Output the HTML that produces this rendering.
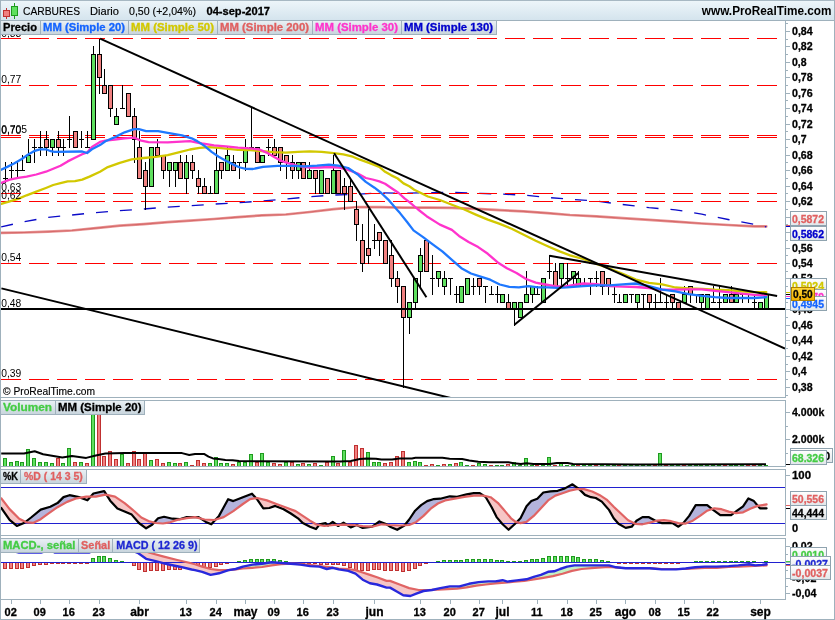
<!DOCTYPE html>
<html><head><meta charset="utf-8"><title>CARBURES</title>
<style>html,body{margin:0;padding:0;background:#fff;overflow:hidden}svg{will-change:transform}svg text{font-family:"Liberation Sans",sans-serif}</style>
</head><body>
<svg width="835" height="620" viewBox="0 0 835 620" style="display:block">
<defs>
<linearGradient id="hdr" x1="0" y1="0" x2="0" y2="1"><stop offset="0" stop-color="#eef6fa"/><stop offset="1" stop-color="#d3e3ed"/></linearGradient>
<linearGradient id="tab" x1="0" y1="0" x2="0" y2="1"><stop offset="0" stop-color="#e9f0f4"/><stop offset="1" stop-color="#c6d3db"/></linearGradient>
<linearGradient id="box" x1="0" y1="0" x2="0" y2="1"><stop offset="0" stop-color="#ffffff"/><stop offset="1" stop-color="#e1e6e9"/></linearGradient>
<linearGradient id="gold" x1="0" y1="0" x2="0" y2="1"><stop offset="0" stop-color="#ffd83a"/><stop offset="1" stop-color="#f0b000"/></linearGradient>
<clipPath id="cp"><rect x="1" y="35" width="784" height="362"/></clipPath>
<clipPath id="cb"><rect x="790" y="448" width="43" height="15"/></clipPath>
<clipPath id="cv"><rect x="1" y="415" width="784" height="51"/></clipPath>
<clipPath id="cs"><rect x="1" y="470" width="784" height="65"/></clipPath>
<clipPath id="cm"><rect x="1" y="553" width="784" height="45"/></clipPath>
</defs>
<rect x="0" y="0" width="835" height="620" fill="#ffffff"/>
<rect x="0" y="0" width="835" height="21" fill="url(#hdr)"/>
<rect x="0" y="0" width="835" height="1" fill="#a7b8c3"/>
<rect x="0" y="20" width="835" height="1" fill="#9fb1bc"/>
<g shape-rendering="crispEdges">
<rect x="6" y="8" width="1" height="11" fill="#c03030"/>
<rect x="3" y="10" width="7" height="7" fill="#c03030"/>
<rect x="4" y="11" width="5" height="5" fill="#f08080"/>
<rect x="14" y="3" width="1" height="16" fill="#1e9a1e"/>
<rect x="11" y="6" width="7" height="10" fill="#1e9a1e"/>
<rect x="12" y="7" width="5" height="8" fill="#5fe05f"/>
</g>
<text x="23" y="15" font-size="11" fill="#000" stroke="#000" stroke-width="0.15" text-anchor="start" textLength="57" lengthAdjust="spacingAndGlyphs">CARBURES</text>
<text x="90" y="15" font-size="11" fill="#000" stroke="#000" stroke-width="0.15" text-anchor="start" textLength="29" lengthAdjust="spacingAndGlyphs">Diario</text>
<text x="129" y="15" font-size="11" fill="#000" stroke="#000" stroke-width="0.15" text-anchor="start" textLength="67" lengthAdjust="spacingAndGlyphs">0,50 (+2,04%)</text>
<text x="206.5" y="15" font-size="11" fill="#000" font-weight="bold" stroke="#000" stroke-width="0.3" text-anchor="start" textLength="63.5" lengthAdjust="spacingAndGlyphs">04-sep-2017</text>
<text x="701.8" y="15" font-size="12" fill="#000" font-weight="bold" text-anchor="start" textLength="129.7" lengthAdjust="spacingAndGlyphs">www.ProRealTime.com</text>
<g shape-rendering="crispEdges">
<rect x="0" y="20" width="786" height="1" fill="#9fb1bc"/>
<rect x="0" y="397" width="786" height="1" fill="#9fb1bc"/>
<rect x="785" y="20" width="1" height="378" fill="#9fb1bc"/>
<rect x="0" y="400" width="786" height="1" fill="#9fb1bc"/>
<rect x="0" y="466" width="786" height="1" fill="#9fb1bc"/>
<rect x="785" y="400" width="1" height="67" fill="#9fb1bc"/>
<rect x="0" y="469" width="786" height="1" fill="#9fb1bc"/>
<rect x="0" y="535" width="786" height="1" fill="#9fb1bc"/>
<rect x="785" y="469" width="1" height="67" fill="#9fb1bc"/>
<rect x="0" y="538" width="786" height="1" fill="#9fb1bc"/>
<rect x="0" y="599" width="786" height="1" fill="#9fb1bc"/>
<rect x="785" y="538" width="1" height="62" fill="#9fb1bc"/>
<rect x="0" y="0" width="1" height="620" fill="#9fb1bc"/>
<rect x="834" y="0" width="1" height="620" fill="#9fb1bc"/>
<rect x="0" y="619" width="835" height="1" fill="#9fb1bc"/>
</g>
<g clip-path="url(#cp)">
<text x="1.2" y="36.5" font-size="10" fill="#000" text-anchor="start" textLength="20" lengthAdjust="spacingAndGlyphs">0,83</text>
<polyline points="1.2,232.9 24.0,232.5 47.9,231.7 71.9,230.5 95.8,228.1 119.8,225.7 143.7,224.1 167.7,222.2 190.0,220.7 214.0,219.0 237.9,217.1 261.9,215.4 285.8,214.5 309.8,212.0 333.7,209.2 357.7,207.0 380.0,207.2 404.0,207.6 427.9,207.6 451.9,207.8 475.8,208.8 499.8,210.2 523.7,211.4 547.7,213.1 570.0,215.0 596.4,216.4 622.7,218.2 649.0,219.8 675.4,221.6 701.8,223.5 728.1,225.0 754.5,226.4 766.3,226.4" fill="none" stroke="#e89494" stroke-width="2.7" stroke-linejoin="round" stroke-linecap="round"/>
<polyline points="1.2,232.9 24.0,232.5 47.9,231.7 71.9,230.5 95.8,228.1 119.8,225.7 143.7,224.1 167.7,222.2 190.0,220.7 214.0,219.0 237.9,217.1 261.9,215.4 285.8,214.5 309.8,212.0 333.7,209.2 357.7,207.0 380.0,207.2 404.0,207.6 427.9,207.6 451.9,207.8 475.8,208.8 499.8,210.2 523.7,211.4 547.7,213.1 570.0,215.0 596.4,216.4 622.7,218.2 649.0,219.8 675.4,221.6 701.8,223.5 728.1,225.0 754.5,226.4 766.3,226.4" fill="none" stroke="#d46464" stroke-width="1.1" stroke-linejoin="round" stroke-linecap="round" opacity="0.9"/>
<polyline points="1.2,226.9 24.0,221.7 47.9,217.4 71.9,215.0 95.8,212.6 119.8,210.7 143.7,209.0 167.7,207.1 190.0,205.8 214.0,204.1 237.9,202.7 261.9,201.0 285.8,199.1 309.8,196.7 333.7,195.0 357.7,194.3 380.0,192.8 404.0,193.2 427.9,192.8 451.9,192.3 475.8,193.2 499.8,194.0 523.7,195.1 547.7,197.5 570.0,199.2 596.4,201.1 622.7,204.5 649.0,207.7 675.4,209.8 701.8,214.2 728.1,219.5 754.5,224.3 766.3,226.9" fill="none" stroke="#0a0ac8" stroke-width="1.35" stroke-dasharray="12,12" stroke-linejoin="round"/>
<g shape-rendering="crispEdges">
<rect x="1" y="38" width="20" height="1" fill="#ff0000"/>
<rect x="29" y="38" width="20" height="1" fill="#ff0000"/>
<rect x="57" y="38" width="20" height="1" fill="#ff0000"/>
<rect x="85" y="38" width="20" height="1" fill="#ff0000"/>
<rect x="113" y="38" width="20" height="1" fill="#ff0000"/>
<rect x="141" y="38" width="20" height="1" fill="#ff0000"/>
<rect x="169" y="38" width="20" height="1" fill="#ff0000"/>
<rect x="197" y="38" width="20" height="1" fill="#ff0000"/>
<rect x="225" y="38" width="20" height="1" fill="#ff0000"/>
<rect x="253" y="38" width="20" height="1" fill="#ff0000"/>
<rect x="281" y="38" width="20" height="1" fill="#ff0000"/>
<rect x="309" y="38" width="20" height="1" fill="#ff0000"/>
<rect x="337" y="38" width="20" height="1" fill="#ff0000"/>
<rect x="365" y="38" width="20" height="1" fill="#ff0000"/>
<rect x="393" y="38" width="20" height="1" fill="#ff0000"/>
<rect x="421" y="38" width="20" height="1" fill="#ff0000"/>
<rect x="449" y="38" width="20" height="1" fill="#ff0000"/>
<rect x="477" y="38" width="20" height="1" fill="#ff0000"/>
<rect x="505" y="38" width="20" height="1" fill="#ff0000"/>
<rect x="533" y="38" width="20" height="1" fill="#ff0000"/>
<rect x="561" y="38" width="20" height="1" fill="#ff0000"/>
<rect x="589" y="38" width="20" height="1" fill="#ff0000"/>
<rect x="617" y="38" width="20" height="1" fill="#ff0000"/>
<rect x="645" y="38" width="20" height="1" fill="#ff0000"/>
<rect x="673" y="38" width="20" height="1" fill="#ff0000"/>
<rect x="701" y="38" width="20" height="1" fill="#ff0000"/>
<rect x="729" y="38" width="20" height="1" fill="#ff0000"/>
<rect x="757" y="38" width="20" height="1" fill="#ff0000"/>
<rect x="1" y="85" width="20" height="1" fill="#ff0000"/>
<rect x="29" y="85" width="20" height="1" fill="#ff0000"/>
<rect x="57" y="85" width="20" height="1" fill="#ff0000"/>
<rect x="85" y="85" width="20" height="1" fill="#ff0000"/>
<rect x="113" y="85" width="20" height="1" fill="#ff0000"/>
<rect x="141" y="85" width="20" height="1" fill="#ff0000"/>
<rect x="169" y="85" width="20" height="1" fill="#ff0000"/>
<rect x="197" y="85" width="20" height="1" fill="#ff0000"/>
<rect x="225" y="85" width="20" height="1" fill="#ff0000"/>
<rect x="253" y="85" width="20" height="1" fill="#ff0000"/>
<rect x="281" y="85" width="20" height="1" fill="#ff0000"/>
<rect x="309" y="85" width="20" height="1" fill="#ff0000"/>
<rect x="337" y="85" width="20" height="1" fill="#ff0000"/>
<rect x="365" y="85" width="20" height="1" fill="#ff0000"/>
<rect x="393" y="85" width="20" height="1" fill="#ff0000"/>
<rect x="421" y="85" width="20" height="1" fill="#ff0000"/>
<rect x="449" y="85" width="20" height="1" fill="#ff0000"/>
<rect x="477" y="85" width="20" height="1" fill="#ff0000"/>
<rect x="505" y="85" width="20" height="1" fill="#ff0000"/>
<rect x="533" y="85" width="20" height="1" fill="#ff0000"/>
<rect x="561" y="85" width="20" height="1" fill="#ff0000"/>
<rect x="589" y="85" width="20" height="1" fill="#ff0000"/>
<rect x="617" y="85" width="20" height="1" fill="#ff0000"/>
<rect x="645" y="85" width="20" height="1" fill="#ff0000"/>
<rect x="673" y="85" width="20" height="1" fill="#ff0000"/>
<rect x="701" y="85" width="20" height="1" fill="#ff0000"/>
<rect x="729" y="85" width="20" height="1" fill="#ff0000"/>
<rect x="757" y="85" width="20" height="1" fill="#ff0000"/>
<rect x="1" y="135" width="20" height="1" fill="#ff0000"/>
<rect x="29" y="135" width="20" height="1" fill="#ff0000"/>
<rect x="57" y="135" width="20" height="1" fill="#ff0000"/>
<rect x="85" y="135" width="20" height="1" fill="#ff0000"/>
<rect x="113" y="135" width="20" height="1" fill="#ff0000"/>
<rect x="141" y="135" width="20" height="1" fill="#ff0000"/>
<rect x="169" y="135" width="20" height="1" fill="#ff0000"/>
<rect x="197" y="135" width="20" height="1" fill="#ff0000"/>
<rect x="225" y="135" width="20" height="1" fill="#ff0000"/>
<rect x="253" y="135" width="20" height="1" fill="#ff0000"/>
<rect x="281" y="135" width="20" height="1" fill="#ff0000"/>
<rect x="309" y="135" width="20" height="1" fill="#ff0000"/>
<rect x="337" y="135" width="20" height="1" fill="#ff0000"/>
<rect x="365" y="135" width="20" height="1" fill="#ff0000"/>
<rect x="393" y="135" width="20" height="1" fill="#ff0000"/>
<rect x="421" y="135" width="20" height="1" fill="#ff0000"/>
<rect x="449" y="135" width="20" height="1" fill="#ff0000"/>
<rect x="477" y="135" width="20" height="1" fill="#ff0000"/>
<rect x="505" y="135" width="20" height="1" fill="#ff0000"/>
<rect x="533" y="135" width="20" height="1" fill="#ff0000"/>
<rect x="561" y="135" width="20" height="1" fill="#ff0000"/>
<rect x="589" y="135" width="20" height="1" fill="#ff0000"/>
<rect x="617" y="135" width="20" height="1" fill="#ff0000"/>
<rect x="645" y="135" width="20" height="1" fill="#ff0000"/>
<rect x="673" y="135" width="20" height="1" fill="#ff0000"/>
<rect x="701" y="135" width="20" height="1" fill="#ff0000"/>
<rect x="729" y="135" width="20" height="1" fill="#ff0000"/>
<rect x="757" y="135" width="20" height="1" fill="#ff0000"/>
<rect x="1" y="137" width="20" height="1" fill="#ff0000"/>
<rect x="29" y="137" width="20" height="1" fill="#ff0000"/>
<rect x="57" y="137" width="20" height="1" fill="#ff0000"/>
<rect x="85" y="137" width="20" height="1" fill="#ff0000"/>
<rect x="113" y="137" width="20" height="1" fill="#ff0000"/>
<rect x="141" y="137" width="20" height="1" fill="#ff0000"/>
<rect x="169" y="137" width="20" height="1" fill="#ff0000"/>
<rect x="197" y="137" width="20" height="1" fill="#ff0000"/>
<rect x="225" y="137" width="20" height="1" fill="#ff0000"/>
<rect x="253" y="137" width="20" height="1" fill="#ff0000"/>
<rect x="281" y="137" width="20" height="1" fill="#ff0000"/>
<rect x="309" y="137" width="20" height="1" fill="#ff0000"/>
<rect x="337" y="137" width="20" height="1" fill="#ff0000"/>
<rect x="365" y="137" width="20" height="1" fill="#ff0000"/>
<rect x="393" y="137" width="20" height="1" fill="#ff0000"/>
<rect x="421" y="137" width="20" height="1" fill="#ff0000"/>
<rect x="449" y="137" width="20" height="1" fill="#ff0000"/>
<rect x="477" y="137" width="20" height="1" fill="#ff0000"/>
<rect x="505" y="137" width="20" height="1" fill="#ff0000"/>
<rect x="533" y="137" width="20" height="1" fill="#ff0000"/>
<rect x="561" y="137" width="20" height="1" fill="#ff0000"/>
<rect x="589" y="137" width="20" height="1" fill="#ff0000"/>
<rect x="617" y="137" width="20" height="1" fill="#ff0000"/>
<rect x="645" y="137" width="20" height="1" fill="#ff0000"/>
<rect x="673" y="137" width="20" height="1" fill="#ff0000"/>
<rect x="701" y="137" width="20" height="1" fill="#ff0000"/>
<rect x="729" y="137" width="20" height="1" fill="#ff0000"/>
<rect x="757" y="137" width="20" height="1" fill="#ff0000"/>
<rect x="1" y="193" width="20" height="1" fill="#ff0000"/>
<rect x="29" y="193" width="20" height="1" fill="#ff0000"/>
<rect x="57" y="193" width="20" height="1" fill="#ff0000"/>
<rect x="85" y="193" width="20" height="1" fill="#ff0000"/>
<rect x="113" y="193" width="20" height="1" fill="#ff0000"/>
<rect x="141" y="193" width="20" height="1" fill="#ff0000"/>
<rect x="169" y="193" width="20" height="1" fill="#ff0000"/>
<rect x="197" y="193" width="20" height="1" fill="#ff0000"/>
<rect x="225" y="193" width="20" height="1" fill="#ff0000"/>
<rect x="253" y="193" width="20" height="1" fill="#ff0000"/>
<rect x="281" y="193" width="20" height="1" fill="#ff0000"/>
<rect x="309" y="193" width="20" height="1" fill="#ff0000"/>
<rect x="337" y="193" width="20" height="1" fill="#ff0000"/>
<rect x="365" y="193" width="20" height="1" fill="#ff0000"/>
<rect x="393" y="193" width="20" height="1" fill="#ff0000"/>
<rect x="421" y="193" width="20" height="1" fill="#ff0000"/>
<rect x="449" y="193" width="20" height="1" fill="#ff0000"/>
<rect x="477" y="193" width="20" height="1" fill="#ff0000"/>
<rect x="505" y="193" width="20" height="1" fill="#ff0000"/>
<rect x="533" y="193" width="20" height="1" fill="#ff0000"/>
<rect x="561" y="193" width="20" height="1" fill="#ff0000"/>
<rect x="589" y="193" width="20" height="1" fill="#ff0000"/>
<rect x="617" y="193" width="20" height="1" fill="#ff0000"/>
<rect x="645" y="193" width="20" height="1" fill="#ff0000"/>
<rect x="673" y="193" width="20" height="1" fill="#ff0000"/>
<rect x="701" y="193" width="20" height="1" fill="#ff0000"/>
<rect x="729" y="193" width="20" height="1" fill="#ff0000"/>
<rect x="757" y="193" width="20" height="1" fill="#ff0000"/>
<rect x="1" y="201" width="20" height="1" fill="#ff0000"/>
<rect x="29" y="201" width="20" height="1" fill="#ff0000"/>
<rect x="57" y="201" width="20" height="1" fill="#ff0000"/>
<rect x="85" y="201" width="20" height="1" fill="#ff0000"/>
<rect x="113" y="201" width="20" height="1" fill="#ff0000"/>
<rect x="141" y="201" width="20" height="1" fill="#ff0000"/>
<rect x="169" y="201" width="20" height="1" fill="#ff0000"/>
<rect x="197" y="201" width="20" height="1" fill="#ff0000"/>
<rect x="225" y="201" width="20" height="1" fill="#ff0000"/>
<rect x="253" y="201" width="20" height="1" fill="#ff0000"/>
<rect x="281" y="201" width="20" height="1" fill="#ff0000"/>
<rect x="309" y="201" width="20" height="1" fill="#ff0000"/>
<rect x="337" y="201" width="20" height="1" fill="#ff0000"/>
<rect x="365" y="201" width="20" height="1" fill="#ff0000"/>
<rect x="393" y="201" width="20" height="1" fill="#ff0000"/>
<rect x="421" y="201" width="20" height="1" fill="#ff0000"/>
<rect x="449" y="201" width="20" height="1" fill="#ff0000"/>
<rect x="477" y="201" width="20" height="1" fill="#ff0000"/>
<rect x="505" y="201" width="20" height="1" fill="#ff0000"/>
<rect x="533" y="201" width="20" height="1" fill="#ff0000"/>
<rect x="561" y="201" width="20" height="1" fill="#ff0000"/>
<rect x="589" y="201" width="20" height="1" fill="#ff0000"/>
<rect x="617" y="201" width="20" height="1" fill="#ff0000"/>
<rect x="645" y="201" width="20" height="1" fill="#ff0000"/>
<rect x="673" y="201" width="20" height="1" fill="#ff0000"/>
<rect x="701" y="201" width="20" height="1" fill="#ff0000"/>
<rect x="729" y="201" width="20" height="1" fill="#ff0000"/>
<rect x="757" y="201" width="20" height="1" fill="#ff0000"/>
<rect x="1" y="263" width="20" height="1" fill="#ff0000"/>
<rect x="29" y="263" width="20" height="1" fill="#ff0000"/>
<rect x="57" y="263" width="20" height="1" fill="#ff0000"/>
<rect x="85" y="263" width="20" height="1" fill="#ff0000"/>
<rect x="113" y="263" width="20" height="1" fill="#ff0000"/>
<rect x="141" y="263" width="20" height="1" fill="#ff0000"/>
<rect x="169" y="263" width="20" height="1" fill="#ff0000"/>
<rect x="197" y="263" width="20" height="1" fill="#ff0000"/>
<rect x="225" y="263" width="20" height="1" fill="#ff0000"/>
<rect x="253" y="263" width="20" height="1" fill="#ff0000"/>
<rect x="281" y="263" width="20" height="1" fill="#ff0000"/>
<rect x="309" y="263" width="20" height="1" fill="#ff0000"/>
<rect x="337" y="263" width="20" height="1" fill="#ff0000"/>
<rect x="365" y="263" width="20" height="1" fill="#ff0000"/>
<rect x="393" y="263" width="20" height="1" fill="#ff0000"/>
<rect x="421" y="263" width="20" height="1" fill="#ff0000"/>
<rect x="449" y="263" width="20" height="1" fill="#ff0000"/>
<rect x="477" y="263" width="20" height="1" fill="#ff0000"/>
<rect x="505" y="263" width="20" height="1" fill="#ff0000"/>
<rect x="533" y="263" width="20" height="1" fill="#ff0000"/>
<rect x="561" y="263" width="20" height="1" fill="#ff0000"/>
<rect x="589" y="263" width="20" height="1" fill="#ff0000"/>
<rect x="617" y="263" width="20" height="1" fill="#ff0000"/>
<rect x="645" y="263" width="20" height="1" fill="#ff0000"/>
<rect x="673" y="263" width="20" height="1" fill="#ff0000"/>
<rect x="701" y="263" width="20" height="1" fill="#ff0000"/>
<rect x="729" y="263" width="20" height="1" fill="#ff0000"/>
<rect x="757" y="263" width="20" height="1" fill="#ff0000"/>
<rect x="1" y="379" width="20" height="1" fill="#ff0000"/>
<rect x="29" y="379" width="20" height="1" fill="#ff0000"/>
<rect x="57" y="379" width="20" height="1" fill="#ff0000"/>
<rect x="85" y="379" width="20" height="1" fill="#ff0000"/>
<rect x="113" y="379" width="20" height="1" fill="#ff0000"/>
<rect x="141" y="379" width="20" height="1" fill="#ff0000"/>
<rect x="169" y="379" width="20" height="1" fill="#ff0000"/>
<rect x="197" y="379" width="20" height="1" fill="#ff0000"/>
<rect x="225" y="379" width="20" height="1" fill="#ff0000"/>
<rect x="253" y="379" width="20" height="1" fill="#ff0000"/>
<rect x="281" y="379" width="20" height="1" fill="#ff0000"/>
<rect x="309" y="379" width="20" height="1" fill="#ff0000"/>
<rect x="337" y="379" width="20" height="1" fill="#ff0000"/>
<rect x="365" y="379" width="20" height="1" fill="#ff0000"/>
<rect x="393" y="379" width="20" height="1" fill="#ff0000"/>
<rect x="421" y="379" width="20" height="1" fill="#ff0000"/>
<rect x="449" y="379" width="20" height="1" fill="#ff0000"/>
<rect x="477" y="379" width="20" height="1" fill="#ff0000"/>
<rect x="505" y="379" width="20" height="1" fill="#ff0000"/>
<rect x="533" y="379" width="20" height="1" fill="#ff0000"/>
<rect x="561" y="379" width="20" height="1" fill="#ff0000"/>
<rect x="589" y="379" width="20" height="1" fill="#ff0000"/>
<rect x="617" y="379" width="20" height="1" fill="#ff0000"/>
<rect x="645" y="379" width="20" height="1" fill="#ff0000"/>
<rect x="673" y="379" width="20" height="1" fill="#ff0000"/>
<rect x="701" y="379" width="20" height="1" fill="#ff0000"/>
<rect x="729" y="379" width="20" height="1" fill="#ff0000"/>
<rect x="757" y="379" width="20" height="1" fill="#ff0000"/>
</g>
<g shape-rendering="crispEdges">
<rect x="5" y="162" width="1" height="21" fill="#000"/>
<rect x="3" y="178" width="5" height="1" fill="#000"/>
<rect x="11" y="162" width="1" height="17" fill="#000"/>
<rect x="9" y="170" width="5" height="1" fill="#000"/>
<rect x="17" y="162" width="1" height="17" fill="#000"/>
<rect x="15" y="170" width="5" height="1" fill="#000"/>
<rect x="22" y="155" width="1" height="16" fill="#000"/>
<rect x="20" y="170" width="5" height="1" fill="#000"/>
<rect x="28" y="139" width="1" height="24" fill="#000"/>
<rect x="26" y="155" width="5" height="8" fill="#000"/>
<rect x="27" y="156" width="3" height="6" fill="#5fe05f"/>
<rect x="34" y="139" width="1" height="24" fill="#000"/>
<rect x="32" y="147" width="5" height="1" fill="#000"/>
<rect x="40" y="131" width="1" height="25" fill="#000"/>
<rect x="38" y="147" width="5" height="1" fill="#000"/>
<rect x="46" y="131" width="1" height="25" fill="#000"/>
<rect x="44" y="139" width="5" height="9" fill="#000"/>
<rect x="45" y="140" width="3" height="7" fill="#f08080"/>
<rect x="52" y="139" width="1" height="17" fill="#000"/>
<rect x="50" y="139" width="5" height="9" fill="#000"/>
<rect x="51" y="140" width="3" height="7" fill="#5fe05f"/>
<rect x="58" y="131" width="1" height="25" fill="#000"/>
<rect x="56" y="139" width="5" height="9" fill="#000"/>
<rect x="57" y="140" width="3" height="7" fill="#f08080"/>
<rect x="63" y="139" width="1" height="17" fill="#000"/>
<rect x="61" y="147" width="5" height="1" fill="#000"/>
<rect x="69" y="116" width="1" height="32" fill="#000"/>
<rect x="67" y="139" width="5" height="1" fill="#000"/>
<rect x="75" y="131" width="1" height="17" fill="#000"/>
<rect x="73" y="131" width="5" height="17" fill="#000"/>
<rect x="74" y="132" width="3" height="15" fill="#f08080"/>
<rect x="81" y="131" width="1" height="17" fill="#000"/>
<rect x="79" y="139" width="5" height="1" fill="#000"/>
<rect x="87" y="131" width="1" height="17" fill="#000"/>
<rect x="85" y="147" width="5" height="1" fill="#000"/>
<rect x="93" y="46" width="1" height="94" fill="#000"/>
<rect x="91" y="54" width="5" height="86" fill="#000"/>
<rect x="92" y="55" width="3" height="84" fill="#5fe05f"/>
<rect x="99" y="39" width="1" height="55" fill="#000"/>
<rect x="97" y="54" width="5" height="24" fill="#000"/>
<rect x="98" y="55" width="3" height="22" fill="#f08080"/>
<rect x="104" y="69" width="1" height="25" fill="#000"/>
<rect x="102" y="85" width="5" height="9" fill="#000"/>
<rect x="103" y="86" width="3" height="7" fill="#f08080"/>
<rect x="110" y="85" width="1" height="32" fill="#000"/>
<rect x="108" y="85" width="5" height="24" fill="#000"/>
<rect x="109" y="86" width="3" height="22" fill="#f08080"/>
<rect x="116" y="108" width="1" height="17" fill="#000"/>
<rect x="114" y="116" width="5" height="9" fill="#000"/>
<rect x="115" y="117" width="3" height="7" fill="#5fe05f"/>
<rect x="122" y="85" width="1" height="24" fill="#000"/>
<rect x="120" y="108" width="5" height="1" fill="#000"/>
<rect x="128" y="93" width="1" height="24" fill="#000"/>
<rect x="126" y="93" width="5" height="24" fill="#000"/>
<rect x="127" y="94" width="3" height="22" fill="#f08080"/>
<rect x="134" y="108" width="1" height="55" fill="#000"/>
<rect x="132" y="116" width="5" height="24" fill="#000"/>
<rect x="133" y="117" width="3" height="22" fill="#f08080"/>
<rect x="139" y="131" width="1" height="48" fill="#000"/>
<rect x="137" y="147" width="5" height="32" fill="#000"/>
<rect x="138" y="148" width="3" height="30" fill="#f08080"/>
<rect x="145" y="162" width="1" height="48" fill="#000"/>
<rect x="143" y="170" width="5" height="17" fill="#000"/>
<rect x="144" y="171" width="3" height="15" fill="#f08080"/>
<rect x="151" y="147" width="1" height="40" fill="#000"/>
<rect x="149" y="147" width="5" height="40" fill="#000"/>
<rect x="150" y="148" width="3" height="38" fill="#5fe05f"/>
<rect x="157" y="139" width="1" height="17" fill="#000"/>
<rect x="155" y="147" width="5" height="9" fill="#000"/>
<rect x="156" y="148" width="3" height="7" fill="#f08080"/>
<rect x="163" y="155" width="1" height="24" fill="#000"/>
<rect x="161" y="155" width="5" height="16" fill="#000"/>
<rect x="162" y="156" width="3" height="14" fill="#f08080"/>
<rect x="169" y="162" width="1" height="25" fill="#000"/>
<rect x="167" y="162" width="5" height="9" fill="#000"/>
<rect x="168" y="163" width="3" height="7" fill="#5fe05f"/>
<rect x="175" y="162" width="1" height="25" fill="#000"/>
<rect x="173" y="162" width="5" height="9" fill="#000"/>
<rect x="174" y="163" width="3" height="7" fill="#5fe05f"/>
<rect x="180" y="155" width="1" height="24" fill="#000"/>
<rect x="178" y="162" width="5" height="17" fill="#000"/>
<rect x="179" y="163" width="3" height="15" fill="#f08080"/>
<rect x="186" y="155" width="1" height="39" fill="#000"/>
<rect x="184" y="162" width="5" height="17" fill="#000"/>
<rect x="185" y="163" width="3" height="15" fill="#5fe05f"/>
<rect x="192" y="155" width="1" height="24" fill="#000"/>
<rect x="190" y="162" width="5" height="9" fill="#000"/>
<rect x="191" y="163" width="3" height="7" fill="#f08080"/>
<rect x="198" y="170" width="1" height="24" fill="#000"/>
<rect x="196" y="178" width="5" height="9" fill="#000"/>
<rect x="197" y="179" width="3" height="7" fill="#f08080"/>
<rect x="204" y="178" width="1" height="16" fill="#000"/>
<rect x="202" y="186" width="5" height="8" fill="#000"/>
<rect x="203" y="187" width="3" height="6" fill="#f08080"/>
<rect x="210" y="186" width="1" height="8" fill="#000"/>
<rect x="208" y="193" width="5" height="1" fill="#000"/>
<rect x="216" y="147" width="1" height="47" fill="#000"/>
<rect x="214" y="170" width="5" height="24" fill="#000"/>
<rect x="215" y="171" width="3" height="22" fill="#5fe05f"/>
<rect x="221" y="162" width="1" height="17" fill="#000"/>
<rect x="219" y="162" width="5" height="9" fill="#000"/>
<rect x="220" y="163" width="3" height="7" fill="#f08080"/>
<rect x="227" y="147" width="1" height="24" fill="#000"/>
<rect x="225" y="155" width="5" height="16" fill="#000"/>
<rect x="226" y="156" width="3" height="14" fill="#5fe05f"/>
<rect x="233" y="155" width="1" height="16" fill="#000"/>
<rect x="231" y="162" width="5" height="9" fill="#000"/>
<rect x="232" y="163" width="3" height="7" fill="#f08080"/>
<rect x="239" y="162" width="1" height="17" fill="#000"/>
<rect x="237" y="162" width="5" height="1" fill="#000"/>
<rect x="245" y="139" width="1" height="32" fill="#000"/>
<rect x="243" y="147" width="5" height="16" fill="#000"/>
<rect x="244" y="148" width="3" height="14" fill="#5fe05f"/>
<rect x="251" y="108" width="1" height="40" fill="#000"/>
<rect x="249" y="147" width="5" height="1" fill="#000"/>
<rect x="257" y="147" width="1" height="16" fill="#000"/>
<rect x="255" y="147" width="5" height="16" fill="#000"/>
<rect x="256" y="148" width="3" height="14" fill="#f08080"/>
<rect x="262" y="155" width="1" height="8" fill="#000"/>
<rect x="260" y="155" width="5" height="8" fill="#000"/>
<rect x="261" y="156" width="3" height="6" fill="#5fe05f"/>
<rect x="268" y="139" width="1" height="17" fill="#000"/>
<rect x="266" y="147" width="5" height="1" fill="#000"/>
<rect x="274" y="139" width="1" height="17" fill="#000"/>
<rect x="272" y="147" width="5" height="9" fill="#000"/>
<rect x="273" y="148" width="3" height="7" fill="#f08080"/>
<rect x="280" y="147" width="1" height="24" fill="#000"/>
<rect x="278" y="147" width="5" height="16" fill="#000"/>
<rect x="279" y="148" width="3" height="14" fill="#f08080"/>
<rect x="286" y="155" width="1" height="24" fill="#000"/>
<rect x="284" y="155" width="5" height="8" fill="#000"/>
<rect x="285" y="156" width="3" height="6" fill="#f08080"/>
<rect x="292" y="155" width="1" height="24" fill="#000"/>
<rect x="290" y="162" width="5" height="9" fill="#000"/>
<rect x="291" y="163" width="3" height="7" fill="#f08080"/>
<rect x="298" y="162" width="1" height="17" fill="#000"/>
<rect x="296" y="162" width="5" height="9" fill="#000"/>
<rect x="297" y="163" width="3" height="7" fill="#5fe05f"/>
<rect x="303" y="162" width="1" height="17" fill="#000"/>
<rect x="301" y="162" width="5" height="17" fill="#000"/>
<rect x="302" y="163" width="3" height="15" fill="#f08080"/>
<rect x="309" y="162" width="1" height="17" fill="#000"/>
<rect x="307" y="170" width="5" height="9" fill="#000"/>
<rect x="308" y="171" width="3" height="7" fill="#5fe05f"/>
<rect x="315" y="170" width="1" height="24" fill="#000"/>
<rect x="313" y="170" width="5" height="9" fill="#000"/>
<rect x="314" y="171" width="3" height="7" fill="#f08080"/>
<rect x="321" y="170" width="1" height="24" fill="#000"/>
<rect x="319" y="170" width="5" height="24" fill="#000"/>
<rect x="320" y="171" width="3" height="22" fill="#5fe05f"/>
<rect x="327" y="178" width="1" height="16" fill="#000"/>
<rect x="325" y="178" width="5" height="16" fill="#000"/>
<rect x="326" y="179" width="3" height="14" fill="#f08080"/>
<rect x="333" y="155" width="1" height="39" fill="#000"/>
<rect x="331" y="170" width="5" height="24" fill="#000"/>
<rect x="332" y="171" width="3" height="22" fill="#5fe05f"/>
<rect x="338" y="170" width="1" height="24" fill="#000"/>
<rect x="336" y="170" width="5" height="24" fill="#000"/>
<rect x="337" y="171" width="3" height="22" fill="#f08080"/>
<rect x="344" y="178" width="1" height="32" fill="#000"/>
<rect x="342" y="186" width="5" height="8" fill="#000"/>
<rect x="343" y="187" width="3" height="6" fill="#f08080"/>
<rect x="350" y="178" width="1" height="24" fill="#000"/>
<rect x="348" y="186" width="5" height="16" fill="#000"/>
<rect x="349" y="187" width="3" height="14" fill="#f08080"/>
<rect x="356" y="201" width="1" height="40" fill="#000"/>
<rect x="354" y="209" width="5" height="16" fill="#000"/>
<rect x="355" y="210" width="3" height="14" fill="#f08080"/>
<rect x="362" y="224" width="1" height="48" fill="#000"/>
<rect x="360" y="240" width="5" height="24" fill="#000"/>
<rect x="361" y="241" width="3" height="22" fill="#f08080"/>
<rect x="368" y="209" width="1" height="55" fill="#000"/>
<rect x="366" y="248" width="5" height="8" fill="#000"/>
<rect x="367" y="249" width="3" height="6" fill="#f08080"/>
<rect x="374" y="224" width="1" height="25" fill="#000"/>
<rect x="372" y="240" width="5" height="1" fill="#000"/>
<rect x="379" y="232" width="1" height="24" fill="#000"/>
<rect x="377" y="232" width="5" height="9" fill="#000"/>
<rect x="378" y="233" width="3" height="7" fill="#f08080"/>
<rect x="385" y="240" width="1" height="24" fill="#000"/>
<rect x="383" y="240" width="5" height="24" fill="#000"/>
<rect x="384" y="241" width="3" height="22" fill="#f08080"/>
<rect x="391" y="240" width="1" height="47" fill="#000"/>
<rect x="389" y="255" width="5" height="24" fill="#000"/>
<rect x="390" y="256" width="3" height="22" fill="#f08080"/>
<rect x="397" y="271" width="1" height="32" fill="#000"/>
<rect x="395" y="278" width="5" height="9" fill="#000"/>
<rect x="396" y="279" width="3" height="7" fill="#f08080"/>
<rect x="403" y="286" width="1" height="102" fill="#000"/>
<rect x="401" y="286" width="5" height="32" fill="#000"/>
<rect x="402" y="287" width="3" height="30" fill="#f08080"/>
<rect x="409" y="302" width="1" height="32" fill="#000"/>
<rect x="407" y="302" width="5" height="16" fill="#000"/>
<rect x="408" y="303" width="3" height="14" fill="#5fe05f"/>
<rect x="415" y="278" width="1" height="32" fill="#000"/>
<rect x="413" y="278" width="5" height="25" fill="#000"/>
<rect x="414" y="279" width="3" height="23" fill="#5fe05f"/>
<rect x="420" y="248" width="1" height="39" fill="#000"/>
<rect x="418" y="255" width="5" height="17" fill="#000"/>
<rect x="419" y="256" width="3" height="15" fill="#5fe05f"/>
<rect x="426" y="240" width="1" height="32" fill="#000"/>
<rect x="424" y="240" width="5" height="32" fill="#000"/>
<rect x="425" y="241" width="3" height="30" fill="#f08080"/>
<rect x="432" y="255" width="1" height="40" fill="#000"/>
<rect x="430" y="278" width="5" height="1" fill="#000"/>
<rect x="438" y="271" width="1" height="16" fill="#000"/>
<rect x="436" y="271" width="5" height="8" fill="#000"/>
<rect x="437" y="272" width="3" height="6" fill="#5fe05f"/>
<rect x="444" y="271" width="1" height="24" fill="#000"/>
<rect x="442" y="278" width="5" height="9" fill="#000"/>
<rect x="443" y="279" width="3" height="7" fill="#5fe05f"/>
<rect x="450" y="278" width="1" height="17" fill="#000"/>
<rect x="448" y="278" width="5" height="1" fill="#000"/>
<rect x="456" y="286" width="1" height="17" fill="#000"/>
<rect x="454" y="294" width="5" height="1" fill="#000"/>
<rect x="461" y="286" width="1" height="17" fill="#000"/>
<rect x="459" y="286" width="5" height="17" fill="#000"/>
<rect x="460" y="287" width="3" height="15" fill="#5fe05f"/>
<rect x="467" y="278" width="1" height="17" fill="#000"/>
<rect x="465" y="278" width="5" height="17" fill="#000"/>
<rect x="466" y="279" width="3" height="15" fill="#5fe05f"/>
<rect x="473" y="278" width="1" height="17" fill="#000"/>
<rect x="471" y="286" width="5" height="1" fill="#000"/>
<rect x="479" y="278" width="1" height="17" fill="#000"/>
<rect x="477" y="278" width="5" height="9" fill="#000"/>
<rect x="478" y="279" width="3" height="7" fill="#f08080"/>
<rect x="485" y="286" width="1" height="17" fill="#000"/>
<rect x="483" y="286" width="5" height="1" fill="#000"/>
<rect x="491" y="286" width="1" height="9" fill="#000"/>
<rect x="489" y="294" width="5" height="1" fill="#000"/>
<rect x="497" y="286" width="1" height="17" fill="#000"/>
<rect x="495" y="294" width="5" height="1" fill="#000"/>
<rect x="502" y="294" width="1" height="9" fill="#000"/>
<rect x="500" y="294" width="5" height="9" fill="#000"/>
<rect x="501" y="295" width="3" height="7" fill="#5fe05f"/>
<rect x="508" y="294" width="1" height="16" fill="#000"/>
<rect x="506" y="302" width="5" height="8" fill="#000"/>
<rect x="507" y="303" width="3" height="6" fill="#f08080"/>
<rect x="514" y="302" width="1" height="24" fill="#000"/>
<rect x="512" y="302" width="5" height="8" fill="#000"/>
<rect x="513" y="303" width="3" height="6" fill="#5fe05f"/>
<rect x="520" y="302" width="1" height="16" fill="#000"/>
<rect x="518" y="302" width="5" height="16" fill="#000"/>
<rect x="519" y="303" width="3" height="14" fill="#5fe05f"/>
<rect x="526" y="271" width="1" height="32" fill="#000"/>
<rect x="524" y="294" width="5" height="9" fill="#000"/>
<rect x="525" y="295" width="3" height="7" fill="#5fe05f"/>
<rect x="532" y="286" width="1" height="17" fill="#000"/>
<rect x="530" y="286" width="5" height="9" fill="#000"/>
<rect x="531" y="287" width="3" height="7" fill="#5fe05f"/>
<rect x="537" y="286" width="1" height="9" fill="#000"/>
<rect x="535" y="294" width="5" height="1" fill="#000"/>
<rect x="543" y="278" width="1" height="25" fill="#000"/>
<rect x="541" y="278" width="5" height="25" fill="#000"/>
<rect x="542" y="279" width="3" height="23" fill="#5fe05f"/>
<rect x="549" y="255" width="1" height="24" fill="#000"/>
<rect x="547" y="271" width="5" height="1" fill="#000"/>
<rect x="555" y="263" width="1" height="24" fill="#000"/>
<rect x="553" y="271" width="5" height="16" fill="#000"/>
<rect x="554" y="272" width="3" height="14" fill="#f08080"/>
<rect x="561" y="263" width="1" height="24" fill="#000"/>
<rect x="559" y="263" width="5" height="16" fill="#000"/>
<rect x="560" y="264" width="3" height="14" fill="#5fe05f"/>
<rect x="567" y="263" width="1" height="24" fill="#000"/>
<rect x="565" y="278" width="5" height="1" fill="#000"/>
<rect x="573" y="271" width="1" height="16" fill="#000"/>
<rect x="571" y="271" width="5" height="8" fill="#000"/>
<rect x="572" y="272" width="3" height="6" fill="#5fe05f"/>
<rect x="578" y="271" width="1" height="16" fill="#000"/>
<rect x="576" y="278" width="5" height="9" fill="#000"/>
<rect x="577" y="279" width="3" height="7" fill="#5fe05f"/>
<rect x="584" y="278" width="1" height="9" fill="#000"/>
<rect x="582" y="286" width="5" height="1" fill="#000"/>
<rect x="590" y="278" width="1" height="17" fill="#000"/>
<rect x="588" y="278" width="5" height="1" fill="#000"/>
<rect x="596" y="271" width="1" height="16" fill="#000"/>
<rect x="594" y="278" width="5" height="1" fill="#000"/>
<rect x="602" y="271" width="1" height="24" fill="#000"/>
<rect x="600" y="271" width="5" height="16" fill="#000"/>
<rect x="601" y="272" width="3" height="14" fill="#f08080"/>
<rect x="608" y="278" width="1" height="17" fill="#000"/>
<rect x="606" y="278" width="5" height="9" fill="#000"/>
<rect x="607" y="279" width="3" height="7" fill="#f08080"/>
<rect x="614" y="286" width="1" height="17" fill="#000"/>
<rect x="612" y="294" width="5" height="1" fill="#000"/>
<rect x="619" y="294" width="1" height="9" fill="#000"/>
<rect x="617" y="302" width="5" height="1" fill="#000"/>
<rect x="625" y="294" width="1" height="9" fill="#000"/>
<rect x="623" y="294" width="5" height="9" fill="#000"/>
<rect x="624" y="295" width="3" height="7" fill="#5fe05f"/>
<rect x="631" y="294" width="1" height="9" fill="#000"/>
<rect x="629" y="294" width="5" height="1" fill="#000"/>
<rect x="637" y="294" width="1" height="16" fill="#000"/>
<rect x="635" y="294" width="5" height="9" fill="#000"/>
<rect x="636" y="295" width="3" height="7" fill="#5fe05f"/>
<rect x="643" y="294" width="1" height="16" fill="#000"/>
<rect x="641" y="294" width="5" height="1" fill="#000"/>
<rect x="649" y="294" width="1" height="16" fill="#000"/>
<rect x="647" y="294" width="5" height="9" fill="#000"/>
<rect x="648" y="295" width="3" height="7" fill="#f08080"/>
<rect x="655" y="294" width="1" height="16" fill="#000"/>
<rect x="653" y="302" width="5" height="1" fill="#000"/>
<rect x="660" y="278" width="1" height="25" fill="#000"/>
<rect x="658" y="302" width="5" height="1" fill="#000"/>
<rect x="666" y="294" width="1" height="16" fill="#000"/>
<rect x="664" y="302" width="5" height="1" fill="#000"/>
<rect x="672" y="294" width="1" height="16" fill="#000"/>
<rect x="670" y="294" width="5" height="9" fill="#000"/>
<rect x="671" y="295" width="3" height="7" fill="#f08080"/>
<rect x="678" y="302" width="1" height="8" fill="#000"/>
<rect x="676" y="302" width="5" height="8" fill="#000"/>
<rect x="677" y="303" width="3" height="6" fill="#f08080"/>
<rect x="684" y="286" width="1" height="17" fill="#000"/>
<rect x="682" y="294" width="5" height="9" fill="#000"/>
<rect x="683" y="295" width="3" height="7" fill="#5fe05f"/>
<rect x="690" y="286" width="1" height="17" fill="#000"/>
<rect x="688" y="286" width="5" height="9" fill="#000"/>
<rect x="689" y="287" width="3" height="7" fill="#f08080"/>
<rect x="696" y="294" width="1" height="9" fill="#000"/>
<rect x="694" y="294" width="5" height="1" fill="#000"/>
<rect x="701" y="294" width="1" height="16" fill="#000"/>
<rect x="699" y="294" width="5" height="9" fill="#000"/>
<rect x="700" y="295" width="3" height="7" fill="#5fe05f"/>
<rect x="707" y="294" width="1" height="16" fill="#000"/>
<rect x="705" y="294" width="5" height="16" fill="#000"/>
<rect x="706" y="295" width="3" height="14" fill="#5fe05f"/>
<rect x="713" y="286" width="1" height="17" fill="#000"/>
<rect x="711" y="302" width="5" height="1" fill="#000"/>
<rect x="719" y="286" width="1" height="24" fill="#000"/>
<rect x="717" y="302" width="5" height="1" fill="#000"/>
<rect x="725" y="294" width="1" height="9" fill="#000"/>
<rect x="723" y="294" width="5" height="9" fill="#000"/>
<rect x="724" y="295" width="3" height="7" fill="#5fe05f"/>
<rect x="731" y="286" width="1" height="17" fill="#000"/>
<rect x="729" y="294" width="5" height="9" fill="#000"/>
<rect x="730" y="295" width="3" height="7" fill="#f08080"/>
<rect x="736" y="294" width="1" height="9" fill="#000"/>
<rect x="734" y="294" width="5" height="9" fill="#000"/>
<rect x="735" y="295" width="3" height="7" fill="#5fe05f"/>
<rect x="742" y="294" width="1" height="9" fill="#000"/>
<rect x="740" y="294" width="5" height="1" fill="#000"/>
<rect x="748" y="294" width="1" height="9" fill="#000"/>
<rect x="746" y="294" width="5" height="1" fill="#000"/>
<rect x="754" y="294" width="1" height="16" fill="#000"/>
<rect x="752" y="302" width="5" height="1" fill="#000"/>
<rect x="760" y="302" width="1" height="8" fill="#000"/>
<rect x="758" y="302" width="5" height="8" fill="#000"/>
<rect x="759" y="303" width="3" height="6" fill="#5fe05f"/>
<rect x="766" y="294" width="1" height="16" fill="#000"/>
<rect x="764" y="294" width="5" height="16" fill="#000"/>
<rect x="765" y="295" width="3" height="14" fill="#5fe05f"/>
</g>
<polyline points="1.2,203.8 9.7,201.3 18.1,198.9 26.6,195.3 36.3,191.7 45.9,188.0 53.2,185.0 60.5,183.2 67.7,181.4 75.0,181.2 82.2,179.6 89.5,176.6 100.0,171.7 107.8,167.1 119.8,162.8 131.7,159.4 143.7,158.0 155.7,156.8 167.7,155.1 179.6,152.2 190.0,149.5 199.6,147.8 209.2,147.1 218.7,147.8 228.3,148.8 237.9,149.8 249.9,150.2 261.9,151.2 273.8,152.2 285.8,152.6 297.8,151.9 309.8,151.4 321.7,151.9 333.7,153.1 343.3,154.3 352.9,156.7 360.0,159.7 369.7,163.1 379.3,166.9 385.1,171.8 390.9,175.1 397.7,178.5 403.5,183.4 409.3,186.3 414.2,189.7 421.9,193.5 427.9,196.5 439.9,200.0 451.9,204.7 463.8,209.3 475.8,214.6 487.8,219.6 499.8,223.9 511.7,228.7 523.7,234.7 535.7,240.7 547.7,246.2 559.6,251.4 570.0,255.3 583.2,259.0 596.4,263.8 609.5,268.5 622.7,273.8 635.9,279.6 649.0,282.8 662.2,284.3 675.4,287.5 688.6,288.3 701.8,288.8 714.9,289.6 728.1,290.1 741.3,291.4 754.5,292.2 766.3,292.2" fill="none" stroke="#d2c800" stroke-width="2.3" stroke-linejoin="round" stroke-linecap="round"/>
<polyline points="1.2,183.0 9.7,179.6 18.1,177.8 26.6,176.6 36.3,174.5 45.9,171.7 53.2,168.7 60.5,165.7 67.7,161.4 75.0,157.8 82.2,154.2 87.1,152.4 91.9,146.9 100.0,141.9 105.4,140.6 115.0,139.5 124.6,138.3 134.1,137.6 141.3,140.7 148.5,142.2 167.7,142.4 190.0,141.1 202.0,143.5 214.0,145.4 225.9,146.4 237.9,147.6 249.9,148.3 259.5,149.5 266.6,152.6 273.8,156.7 281.0,160.8 290.6,163.9 300.2,166.3 309.8,167.5 319.3,167.5 328.9,167.0 338.5,167.5 348.1,169.9 357.7,173.5 360.0,174.7 365.8,178.0 372.6,179.5 379.3,181.4 385.1,183.8 390.9,187.7 398.7,193.0 404.5,198.4 409.7,202.3 418.1,209.5 426.6,216.2 439.9,224.6 451.9,229.9 459.0,235.9 468.6,241.9 478.2,247.1 487.8,253.8 497.4,262.2 506.9,268.2 516.5,273.0 526.1,279.0 535.7,282.6 545.3,284.5 554.9,286.2 564.4,286.6 574.0,285.0 583.2,283.5 596.4,284.1 609.5,286.2 622.7,286.7 635.9,287.0 649.0,288.0 662.2,289.6 675.4,289.6 688.6,289.3 701.8,289.3 714.9,290.9 728.1,292.2 741.3,293.6 754.5,294.9 766.3,295.4" fill="none" stroke="#ff33cc" stroke-width="2.3" stroke-linejoin="round" stroke-linecap="round"/>
<polyline points="1.2,169.7 7.3,166.9 14.5,163.3 21.8,159.0 27.8,154.8 33.9,151.2 39.9,149.3 45.9,149.3 50.8,151.2 54.4,151.8 82.2,151.5 87.1,153.0 91.9,149.3 100.0,145.1 105.4,141.2 115.0,137.1 124.6,132.3 134.1,129.2 138.9,129.2 146.1,131.1 158.1,131.1 167.7,132.8 182.0,135.4 191.6,138.3 197.2,141.1 204.4,145.9 211.6,151.9 218.7,156.7 225.9,160.8 235.5,165.6 240.0,167.5 246.0,168.8 253.0,169.0 263.0,166.8 277.5,165.8 293.0,165.8 305.0,166.3 316.9,165.6 328.9,164.6 338.5,165.6 348.1,168.0 357.7,174.5 360.0,176.6 365.8,181.9 374.5,187.7 381.3,193.0 388.0,199.3 393.8,206.1 396.8,209.5 400.0,213.1 407.3,222.2 413.5,230.4 423.1,237.1 432.7,244.3 442.3,251.4 451.9,259.8 461.4,268.2 471.0,273.5 480.6,276.6 490.2,279.7 499.8,284.5 509.3,286.9 518.9,287.4 528.5,286.2 538.1,287.4 547.7,287.4 557.2,287.8 566.8,287.4 583.2,286.2 596.4,285.4 609.5,285.4 622.7,284.3 635.9,283.5 649.0,286.2 662.2,289.6 675.4,291.4 688.6,294.1 701.8,295.9 714.9,297.2 728.1,298.0 741.3,298.0 754.5,298.0 766.3,297.2" fill="none" stroke="#1e78ff" stroke-width="2.3" stroke-linejoin="round" stroke-linecap="round"/>
<line x1="100.1" y1="38.6" x2="785" y2="348.5" stroke="#000" stroke-width="2"/>
<line x1="334.1" y1="153.2" x2="426.4" y2="297.2" stroke="#000" stroke-width="2"/>
<line x1="1.4" y1="288.4" x2="452" y2="398.3" stroke="#000" stroke-width="2"/>
<line x1="549.6" y1="255.8" x2="777.1" y2="296" stroke="#000" stroke-width="2"/>
<line x1="514.4" y1="324.8" x2="578.4" y2="273" stroke="#000" stroke-width="2"/>
<rect x="1" y="308" width="784" height="2" fill="#000" shape-rendering="crispEdges"/>
<text x="1.2" y="83" font-size="10" fill="#000" text-anchor="start" textLength="20" lengthAdjust="spacingAndGlyphs">0,77</text>
<text x="1.2" y="133.4" font-size="10" fill="#000" text-anchor="start" textLength="25.9" lengthAdjust="spacingAndGlyphs">0,705</text>
<text x="1.2" y="134.4" font-size="10" fill="#000" text-anchor="start" textLength="20" lengthAdjust="spacingAndGlyphs">0,70</text>
<text x="1.2" y="191" font-size="10" fill="#000" text-anchor="start" textLength="20" lengthAdjust="spacingAndGlyphs">0,63</text>
<text x="1.2" y="199" font-size="10" fill="#000" text-anchor="start" textLength="20" lengthAdjust="spacingAndGlyphs">0,62</text>
<text x="1.2" y="261" font-size="10" fill="#000" text-anchor="start" textLength="20" lengthAdjust="spacingAndGlyphs">0,54</text>
<text x="1.2" y="307" font-size="10" fill="#000" text-anchor="start" textLength="20" lengthAdjust="spacingAndGlyphs">0,48</text>
<text x="1.2" y="377" font-size="10" fill="#000" text-anchor="start" textLength="20" lengthAdjust="spacingAndGlyphs">0,39</text>
</g>
<text x="3" y="395.2" font-size="11" fill="#000" stroke="#000" stroke-width="0.15" text-anchor="start" textLength="92" lengthAdjust="spacingAndGlyphs">© ProRealTime.com</text>
<g shape-rendering="crispEdges">
<rect x="1" y="21" width="40" height="14" fill="url(#tab)"/>
<rect x="40" y="21" width="1" height="14" fill="#9fb1bc"/>
<rect x="1" y="34" width="40" height="1" fill="#9fb1bc"/>
</g>
<text x="3" y="30.6" font-size="11" fill="#000" font-weight="bold" stroke="#000" stroke-width="0.3" text-anchor="start" textLength="34" lengthAdjust="spacingAndGlyphs">Precio</text>
<g shape-rendering="crispEdges">
<rect x="41" y="21" width="88" height="14" fill="url(#tab)"/>
<rect x="128" y="21" width="1" height="14" fill="#9fb1bc"/>
<rect x="41" y="34" width="88" height="1" fill="#9fb1bc"/>
</g>
<text x="43" y="30.6" font-size="11" fill="#1464ff" font-weight="bold" stroke="#1464ff" stroke-width="0.3" text-anchor="start" textLength="82" lengthAdjust="spacingAndGlyphs">MM (Simple 20)</text>
<g shape-rendering="crispEdges">
<rect x="129" y="21" width="89" height="14" fill="url(#tab)"/>
<rect x="217" y="21" width="1" height="14" fill="#9fb1bc"/>
<rect x="129" y="34" width="89" height="1" fill="#9fb1bc"/>
</g>
<text x="131" y="30.6" font-size="11" fill="#d2c800" font-weight="bold" stroke="#d2c800" stroke-width="0.3" text-anchor="start" textLength="83" lengthAdjust="spacingAndGlyphs">MM (Simple 50)</text>
<g shape-rendering="crispEdges">
<rect x="218" y="21" width="95" height="14" fill="url(#tab)"/>
<rect x="312" y="21" width="1" height="14" fill="#9fb1bc"/>
<rect x="218" y="34" width="95" height="1" fill="#9fb1bc"/>
</g>
<text x="220" y="30.6" font-size="11" fill="#e06060" font-weight="bold" stroke="#e06060" stroke-width="0.3" text-anchor="start" textLength="89" lengthAdjust="spacingAndGlyphs">MM (Simple 200)</text>
<g shape-rendering="crispEdges">
<rect x="313" y="21" width="89" height="14" fill="url(#tab)"/>
<rect x="401" y="21" width="1" height="14" fill="#9fb1bc"/>
<rect x="313" y="34" width="89" height="1" fill="#9fb1bc"/>
</g>
<text x="315" y="30.6" font-size="11" fill="#ff33cc" font-weight="bold" stroke="#ff33cc" stroke-width="0.3" text-anchor="start" textLength="83" lengthAdjust="spacingAndGlyphs">MM (Simple 30)</text>
<g shape-rendering="crispEdges">
<rect x="402" y="21" width="95" height="14" fill="url(#tab)"/>
<rect x="496" y="21" width="1" height="14" fill="#9fb1bc"/>
<rect x="402" y="34" width="95" height="1" fill="#9fb1bc"/>
</g>
<text x="404" y="30.6" font-size="11" fill="#0000cc" font-weight="bold" stroke="#0000cc" stroke-width="0.3" text-anchor="start" textLength="89" lengthAdjust="spacingAndGlyphs">MM (Simple 130)</text>
<g clip-path="url(#cv)">
<g shape-rendering="crispEdges">
<rect x="3" y="458" width="4" height="8" fill="#1e9a1e"/>
<rect x="4" y="459" width="2" height="7" fill="#5fe05f"/>
<rect x="9" y="462" width="4" height="4" fill="#1e9a1e"/>
<rect x="10" y="463" width="2" height="3" fill="#5fe05f"/>
<rect x="15" y="461" width="4" height="5" fill="#1e9a1e"/>
<rect x="16" y="462" width="2" height="4" fill="#5fe05f"/>
<rect x="20" y="462" width="4" height="4" fill="#1e9a1e"/>
<rect x="21" y="463" width="2" height="3" fill="#5fe05f"/>
<rect x="26" y="449" width="4" height="17" fill="#1e9a1e"/>
<rect x="27" y="450" width="2" height="16" fill="#5fe05f"/>
<rect x="32" y="458" width="4" height="8" fill="#1e9a1e"/>
<rect x="33" y="459" width="2" height="7" fill="#5fe05f"/>
<rect x="38" y="462" width="4" height="4" fill="#1e9a1e"/>
<rect x="39" y="463" width="2" height="3" fill="#5fe05f"/>
<rect x="44" y="462" width="4" height="4" fill="#1e9a1e"/>
<rect x="45" y="463" width="2" height="3" fill="#5fe05f"/>
<rect x="50" y="463" width="4" height="3" fill="#1e9a1e"/>
<rect x="51" y="464" width="2" height="2" fill="#5fe05f"/>
<rect x="56" y="458" width="4" height="8" fill="#c03030"/>
<rect x="57" y="459" width="2" height="7" fill="#f08080"/>
<rect x="61" y="463" width="4" height="3" fill="#1e9a1e"/>
<rect x="62" y="464" width="2" height="2" fill="#5fe05f"/>
<rect x="67" y="448" width="4" height="18" fill="#1e9a1e"/>
<rect x="68" y="449" width="2" height="17" fill="#5fe05f"/>
<rect x="73" y="462" width="4" height="4" fill="#c03030"/>
<rect x="74" y="463" width="2" height="3" fill="#f08080"/>
<rect x="79" y="462" width="4" height="4" fill="#1e9a1e"/>
<rect x="80" y="463" width="2" height="3" fill="#5fe05f"/>
<rect x="85" y="463" width="4" height="3" fill="#c03030"/>
<rect x="86" y="464" width="2" height="2" fill="#f08080"/>
<rect x="91" y="406" width="4" height="60" fill="#1e9a1e"/>
<rect x="92" y="407" width="2" height="59" fill="#5fe05f"/>
<rect x="97" y="406" width="4" height="60" fill="#c03030"/>
<rect x="98" y="407" width="2" height="59" fill="#f08080"/>
<rect x="102" y="456" width="4" height="10" fill="#c03030"/>
<rect x="103" y="457" width="2" height="9" fill="#f08080"/>
<rect x="108" y="451" width="4" height="15" fill="#c03030"/>
<rect x="109" y="452" width="2" height="14" fill="#f08080"/>
<rect x="114" y="459" width="4" height="7" fill="#c03030"/>
<rect x="115" y="460" width="2" height="6" fill="#f08080"/>
<rect x="120" y="454" width="4" height="12" fill="#1e9a1e"/>
<rect x="121" y="455" width="2" height="11" fill="#5fe05f"/>
<rect x="126" y="463" width="4" height="3" fill="#c03030"/>
<rect x="127" y="464" width="2" height="2" fill="#f08080"/>
<rect x="132" y="451" width="4" height="15" fill="#c03030"/>
<rect x="133" y="452" width="2" height="14" fill="#f08080"/>
<rect x="137" y="459" width="4" height="7" fill="#c03030"/>
<rect x="138" y="460" width="2" height="6" fill="#f08080"/>
<rect x="143" y="453" width="4" height="13" fill="#c03030"/>
<rect x="144" y="454" width="2" height="12" fill="#f08080"/>
<rect x="149" y="460" width="4" height="6" fill="#1e9a1e"/>
<rect x="150" y="461" width="2" height="5" fill="#5fe05f"/>
<rect x="155" y="459" width="4" height="7" fill="#c03030"/>
<rect x="156" y="460" width="2" height="6" fill="#f08080"/>
<rect x="161" y="463" width="4" height="3" fill="#c03030"/>
<rect x="162" y="464" width="2" height="2" fill="#f08080"/>
<rect x="167" y="462" width="4" height="4" fill="#1e9a1e"/>
<rect x="168" y="463" width="2" height="3" fill="#5fe05f"/>
<rect x="173" y="463" width="4" height="3" fill="#1e9a1e"/>
<rect x="174" y="464" width="2" height="2" fill="#5fe05f"/>
<rect x="178" y="463" width="4" height="3" fill="#c03030"/>
<rect x="179" y="464" width="2" height="2" fill="#f08080"/>
<rect x="184" y="462" width="4" height="4" fill="#1e9a1e"/>
<rect x="185" y="463" width="2" height="3" fill="#5fe05f"/>
<rect x="190" y="465" width="4" height="1" fill="#c03030"/>
<rect x="196" y="460" width="4" height="6" fill="#c03030"/>
<rect x="197" y="461" width="2" height="5" fill="#f08080"/>
<rect x="202" y="463" width="4" height="3" fill="#c03030"/>
<rect x="203" y="464" width="2" height="2" fill="#f08080"/>
<rect x="208" y="463" width="4" height="3" fill="#1e9a1e"/>
<rect x="209" y="464" width="2" height="2" fill="#5fe05f"/>
<rect x="214" y="457" width="4" height="9" fill="#1e9a1e"/>
<rect x="215" y="458" width="2" height="8" fill="#5fe05f"/>
<rect x="219" y="463" width="4" height="3" fill="#1e9a1e"/>
<rect x="220" y="464" width="2" height="2" fill="#5fe05f"/>
<rect x="225" y="463" width="4" height="3" fill="#1e9a1e"/>
<rect x="226" y="464" width="2" height="2" fill="#5fe05f"/>
<rect x="231" y="464" width="4" height="2" fill="#c03030"/>
<rect x="232" y="465" width="2" height="1" fill="#f08080"/>
<rect x="237" y="462" width="4" height="4" fill="#1e9a1e"/>
<rect x="238" y="463" width="2" height="3" fill="#5fe05f"/>
<rect x="243" y="462" width="4" height="4" fill="#1e9a1e"/>
<rect x="244" y="463" width="2" height="3" fill="#5fe05f"/>
<rect x="249" y="454" width="4" height="12" fill="#1e9a1e"/>
<rect x="250" y="455" width="2" height="11" fill="#5fe05f"/>
<rect x="255" y="462" width="4" height="4" fill="#c03030"/>
<rect x="256" y="463" width="2" height="3" fill="#f08080"/>
<rect x="260" y="453" width="4" height="13" fill="#1e9a1e"/>
<rect x="261" y="454" width="2" height="12" fill="#5fe05f"/>
<rect x="266" y="462" width="4" height="4" fill="#1e9a1e"/>
<rect x="267" y="463" width="2" height="3" fill="#5fe05f"/>
<rect x="272" y="463" width="4" height="3" fill="#c03030"/>
<rect x="273" y="464" width="2" height="2" fill="#f08080"/>
<rect x="278" y="464" width="4" height="2" fill="#c03030"/>
<rect x="279" y="465" width="2" height="1" fill="#f08080"/>
<rect x="284" y="462" width="4" height="4" fill="#1e9a1e"/>
<rect x="285" y="463" width="2" height="3" fill="#5fe05f"/>
<rect x="290" y="462" width="4" height="4" fill="#c03030"/>
<rect x="291" y="463" width="2" height="3" fill="#f08080"/>
<rect x="296" y="464" width="4" height="2" fill="#1e9a1e"/>
<rect x="297" y="465" width="2" height="1" fill="#5fe05f"/>
<rect x="301" y="463" width="4" height="3" fill="#c03030"/>
<rect x="302" y="464" width="2" height="2" fill="#f08080"/>
<rect x="307" y="464" width="4" height="2" fill="#1e9a1e"/>
<rect x="308" y="465" width="2" height="1" fill="#5fe05f"/>
<rect x="313" y="463" width="4" height="3" fill="#c03030"/>
<rect x="314" y="464" width="2" height="2" fill="#f08080"/>
<rect x="319" y="465" width="4" height="1" fill="#1e9a1e"/>
<rect x="325" y="462" width="4" height="4" fill="#c03030"/>
<rect x="326" y="463" width="2" height="3" fill="#f08080"/>
<rect x="331" y="456" width="4" height="10" fill="#1e9a1e"/>
<rect x="332" y="457" width="2" height="9" fill="#5fe05f"/>
<rect x="336" y="463" width="4" height="3" fill="#c03030"/>
<rect x="337" y="464" width="2" height="2" fill="#f08080"/>
<rect x="342" y="450" width="4" height="16" fill="#1e9a1e"/>
<rect x="343" y="451" width="2" height="15" fill="#5fe05f"/>
<rect x="348" y="462" width="4" height="4" fill="#c03030"/>
<rect x="349" y="463" width="2" height="3" fill="#f08080"/>
<rect x="354" y="445" width="4" height="21" fill="#c03030"/>
<rect x="355" y="446" width="2" height="20" fill="#f08080"/>
<rect x="360" y="448" width="4" height="18" fill="#c03030"/>
<rect x="361" y="449" width="2" height="17" fill="#f08080"/>
<rect x="366" y="452" width="4" height="14" fill="#1e9a1e"/>
<rect x="367" y="453" width="2" height="13" fill="#5fe05f"/>
<rect x="372" y="462" width="4" height="4" fill="#1e9a1e"/>
<rect x="373" y="463" width="2" height="3" fill="#5fe05f"/>
<rect x="377" y="462" width="4" height="4" fill="#1e9a1e"/>
<rect x="378" y="463" width="2" height="3" fill="#5fe05f"/>
<rect x="383" y="463" width="4" height="3" fill="#c03030"/>
<rect x="384" y="464" width="2" height="2" fill="#f08080"/>
<rect x="389" y="462" width="4" height="4" fill="#c03030"/>
<rect x="390" y="463" width="2" height="3" fill="#f08080"/>
<rect x="395" y="456" width="4" height="10" fill="#c03030"/>
<rect x="396" y="457" width="2" height="9" fill="#f08080"/>
<rect x="401" y="451" width="4" height="15" fill="#c03030"/>
<rect x="402" y="452" width="2" height="14" fill="#f08080"/>
<rect x="407" y="462" width="4" height="4" fill="#1e9a1e"/>
<rect x="408" y="463" width="2" height="3" fill="#5fe05f"/>
<rect x="413" y="461" width="4" height="5" fill="#1e9a1e"/>
<rect x="414" y="462" width="2" height="4" fill="#5fe05f"/>
<rect x="418" y="462" width="4" height="4" fill="#1e9a1e"/>
<rect x="419" y="463" width="2" height="3" fill="#5fe05f"/>
<rect x="424" y="465" width="4" height="1" fill="#c03030"/>
<rect x="430" y="464" width="4" height="2" fill="#c03030"/>
<rect x="431" y="465" width="2" height="1" fill="#f08080"/>
<rect x="436" y="465" width="4" height="1" fill="#1e9a1e"/>
<rect x="442" y="464" width="4" height="2" fill="#c03030"/>
<rect x="443" y="465" width="2" height="1" fill="#f08080"/>
<rect x="448" y="464" width="4" height="2" fill="#1e9a1e"/>
<rect x="449" y="465" width="2" height="1" fill="#5fe05f"/>
<rect x="454" y="463" width="4" height="3" fill="#c03030"/>
<rect x="455" y="464" width="2" height="2" fill="#f08080"/>
<rect x="459" y="462" width="4" height="4" fill="#1e9a1e"/>
<rect x="460" y="463" width="2" height="3" fill="#5fe05f"/>
<rect x="465" y="465" width="4" height="1" fill="#1e9a1e"/>
<rect x="471" y="465" width="4" height="1" fill="#c03030"/>
<rect x="477" y="463" width="4" height="3" fill="#1e9a1e"/>
<rect x="478" y="464" width="2" height="2" fill="#5fe05f"/>
<rect x="483" y="464" width="4" height="2" fill="#1e9a1e"/>
<rect x="484" y="465" width="2" height="1" fill="#5fe05f"/>
<rect x="489" y="465" width="4" height="1" fill="#c03030"/>
<rect x="495" y="465" width="4" height="1" fill="#1e9a1e"/>
<rect x="500" y="465" width="4" height="1" fill="#1e9a1e"/>
<rect x="506" y="464" width="4" height="2" fill="#c03030"/>
<rect x="507" y="465" width="2" height="1" fill="#f08080"/>
<rect x="512" y="462" width="4" height="4" fill="#1e9a1e"/>
<rect x="513" y="463" width="2" height="3" fill="#5fe05f"/>
<rect x="518" y="465" width="4" height="1" fill="#1e9a1e"/>
<rect x="524" y="458" width="4" height="8" fill="#1e9a1e"/>
<rect x="525" y="459" width="2" height="7" fill="#5fe05f"/>
<rect x="530" y="465" width="4" height="1" fill="#1e9a1e"/>
<rect x="535" y="465" width="4" height="1" fill="#c03030"/>
<rect x="541" y="465" width="4" height="1" fill="#1e9a1e"/>
<rect x="547" y="457" width="4" height="9" fill="#1e9a1e"/>
<rect x="548" y="458" width="2" height="8" fill="#5fe05f"/>
<rect x="553" y="465" width="4" height="1" fill="#c03030"/>
<rect x="559" y="463" width="4" height="3" fill="#1e9a1e"/>
<rect x="560" y="464" width="2" height="2" fill="#5fe05f"/>
<rect x="565" y="465" width="4" height="1" fill="#1e9a1e"/>
<rect x="571" y="465" width="4" height="1" fill="#1e9a1e"/>
<rect x="576" y="465" width="4" height="1" fill="#c03030"/>
<rect x="582" y="465" width="4" height="1" fill="#1e9a1e"/>
<rect x="588" y="465" width="4" height="1" fill="#1e9a1e"/>
<rect x="594" y="465" width="4" height="1" fill="#c03030"/>
<rect x="600" y="465" width="4" height="1" fill="#1e9a1e"/>
<rect x="606" y="465" width="4" height="1" fill="#1e9a1e"/>
<rect x="612" y="465" width="4" height="1" fill="#1e9a1e"/>
<rect x="617" y="465" width="4" height="1" fill="#c03030"/>
<rect x="623" y="465" width="4" height="1" fill="#1e9a1e"/>
<rect x="629" y="465" width="4" height="1" fill="#1e9a1e"/>
<rect x="635" y="465" width="4" height="1" fill="#1e9a1e"/>
<rect x="641" y="465" width="4" height="1" fill="#1e9a1e"/>
<rect x="647" y="465" width="4" height="1" fill="#1e9a1e"/>
<rect x="653" y="465" width="4" height="1" fill="#c03030"/>
<rect x="658" y="453" width="4" height="13" fill="#1e9a1e"/>
<rect x="659" y="454" width="2" height="12" fill="#5fe05f"/>
<rect x="664" y="465" width="4" height="1" fill="#c03030"/>
<rect x="670" y="465" width="4" height="1" fill="#1e9a1e"/>
<rect x="676" y="465" width="4" height="1" fill="#1e9a1e"/>
<rect x="682" y="465" width="4" height="1" fill="#c03030"/>
<rect x="688" y="465" width="4" height="1" fill="#1e9a1e"/>
<rect x="694" y="465" width="4" height="1" fill="#1e9a1e"/>
<rect x="699" y="465" width="4" height="1" fill="#1e9a1e"/>
<rect x="705" y="465" width="4" height="1" fill="#1e9a1e"/>
<rect x="711" y="465" width="4" height="1" fill="#1e9a1e"/>
<rect x="717" y="465" width="4" height="1" fill="#1e9a1e"/>
<rect x="723" y="465" width="4" height="1" fill="#c03030"/>
<rect x="729" y="465" width="4" height="1" fill="#1e9a1e"/>
<rect x="734" y="465" width="4" height="1" fill="#1e9a1e"/>
<rect x="740" y="465" width="4" height="1" fill="#1e9a1e"/>
<rect x="746" y="465" width="4" height="1" fill="#c03030"/>
<rect x="752" y="465" width="4" height="1" fill="#c03030"/>
<rect x="758" y="465" width="4" height="1" fill="#1e9a1e"/>
<rect x="764" y="465" width="4" height="1" fill="#1e9a1e"/>
</g>
<polyline points="1.2,453.6 24.0,453.6 34.7,451.2 43.1,454.3 62.3,457.4 71.9,456.0 86.2,457.9 95.8,455.5 105.4,453.6 124.6,453.1 167.7,453.1 182.0,453.1 189.2,455.0 195.0,453.9 204.0,453.9 208.5,456.6 213.0,458.4 218.4,459.1 225.5,460.0 232.7,460.2 239.0,461.1 340.0,461.4 350.8,460.9 359.8,459.1 366.9,458.4 375.9,458.7 381.3,459.6 392.1,459.6 399.3,458.4 411.9,458.4 415.4,457.8 442.4,457.8 449.6,458.7 462.1,459.1 469.3,460.5 478.3,461.8 490.0,462.3 508.4,462.3 513.7,463.2 520.9,464.1 526.3,463.2 533.5,464.1 549.7,464.1 556.9,462.9 567.6,462.9 573.0,464.1 635.0,464.5 766.0,464.3" fill="none" stroke="#000" stroke-width="2" stroke-linejoin="round"/>
</g>
<g shape-rendering="crispEdges">
<rect x="1" y="401" width="55" height="14" fill="url(#tab)"/>
<rect x="55" y="401" width="1" height="14" fill="#9fb1bc"/>
<rect x="1" y="414" width="55" height="1" fill="#9fb1bc"/>
</g>
<text x="3" y="410.6" font-size="11" fill="#44cc44" font-weight="bold" stroke="#44cc44" stroke-width="0.3" text-anchor="start" textLength="49" lengthAdjust="spacingAndGlyphs">Volumen</text>
<g shape-rendering="crispEdges">
<rect x="56" y="401" width="89" height="14" fill="url(#tab)"/>
<rect x="144" y="401" width="1" height="14" fill="#9fb1bc"/>
<rect x="56" y="414" width="89" height="1" fill="#9fb1bc"/>
</g>
<text x="58" y="410.6" font-size="11" fill="#000" font-weight="bold" stroke="#000" stroke-width="0.3" text-anchor="start" textLength="83.5" lengthAdjust="spacingAndGlyphs">MM (Simple 20)</text>
<g clip-path="url(#cs)">
<polygon points="1.2,507.9 2.2,509.3 3.2,510.8 4.2,512.2 5.2,513.6 6.2,515.0 7.2,516.5 8.2,517.9 9.2,519.3 10.2,520.4 11.2,521.2 12.2,522.1 13.2,522.9 14.2,523.7 15.2,524.6 16.2,525.4 17.2,525.7 18.2,525.3 19.2,524.9 20.2,524.5 21.2,524.1 22.2,523.7 23.2,523.3 24.2,522.8 25.2,522.1 25.5,521.9 25.5,521.9 25.2,521.7 24.2,521.2 23.2,520.7 22.2,520.2 21.2,519.7 20.2,519.2 19.2,518.7 18.2,517.7 17.2,516.7 16.2,515.7 15.2,514.7 14.2,513.7 13.2,512.7 12.2,511.7 11.2,510.7 10.2,509.7 9.2,508.6 8.2,507.3 7.2,506.0 6.2,504.7 5.2,503.4 4.2,502.2 3.2,500.9 2.2,499.6 1.2,498.3" fill="#f6c6c6"/>
<polygon points="25.5,521.9 26.2,521.3 27.2,520.5 28.2,519.7 29.2,519.0 30.2,518.2 31.2,517.4 32.2,516.6 33.2,515.8 34.2,514.9 35.2,514.1 36.2,513.3 37.2,512.5 38.2,511.7 39.2,510.8 40.2,510.0 41.2,509.4 42.2,509.1 43.2,508.8 44.2,508.5 45.2,508.2 46.2,507.9 47.2,507.6 48.2,507.3 49.2,507.0 50.2,506.7 51.2,506.2 52.2,505.8 53.2,505.2 54.2,504.8 55.2,504.2 56.2,503.8 57.2,503.2 58.2,502.4 59.2,501.4 60.2,500.4 61.2,499.4 62.2,498.4 63.2,497.4 64.2,496.9 65.2,496.6 66.2,496.2 67.2,495.9 68.2,495.6 69.2,495.3 70.2,495.3 71.2,495.5 72.2,495.7 73.2,495.9 74.2,496.1 75.2,496.3 76.2,496.5 77.2,496.7 78.2,496.9 79.2,497.2 80.2,497.6 80.5,497.7 80.5,497.7 80.2,497.7 79.2,497.9 78.2,498.0 77.2,498.2 76.2,498.5 75.2,498.8 74.2,499.2 73.2,499.6 72.2,500.0 71.2,500.3 70.2,500.7 69.2,501.1 68.2,501.5 67.2,501.9 66.2,502.4 65.2,502.9 64.2,503.5 63.2,504.1 62.2,504.6 61.2,505.2 60.2,505.7 59.2,506.3 58.2,506.8 57.2,507.4 56.2,508.1 55.2,508.8 54.2,509.5 53.2,510.2 52.2,510.9 51.2,511.6 50.2,512.3 49.2,513.0 48.2,513.7 47.2,514.4 46.2,515.2 45.2,515.9 44.2,516.6 43.2,517.4 42.2,518.1 41.2,518.8 40.2,519.5 39.2,520.0 38.2,520.5 37.2,521.0 36.2,521.4 35.2,521.9 34.2,522.4 33.2,522.8 32.2,522.7 31.2,522.6 30.2,522.6 29.2,522.5 28.2,522.4 27.2,522.4 26.2,522.2 25.5,521.9" fill="#b4b4dc"/>
<polygon points="80.5,497.7 81.2,497.9 82.2,498.3 83.2,498.7 84.2,499.1 85.2,499.5 86.2,499.8 87.2,500.2 88.2,499.4 89.2,498.3 90.2,497.1 90.6,496.7 90.6,496.7 90.2,496.7 89.2,496.7 88.2,496.7 87.2,496.7 86.2,496.7 85.2,496.9 84.2,497.0 83.2,497.2 82.2,497.4 81.2,497.5 80.5,497.7" fill="#f6c6c6"/>
<polygon points="90.6,496.7 91.2,496.0 92.2,494.9 93.2,493.7 94.2,493.3 95.2,493.1 96.2,492.9 97.2,492.7 98.2,492.4 99.2,492.2 100.2,492.0 101.2,491.8 102.2,491.5 103.2,491.3 104.2,491.1 105.2,492.7 106.2,494.3 106.6,495.0 106.6,495.0 106.2,494.9 105.2,494.7 104.2,494.9 103.2,495.2 102.2,495.4 101.2,495.6 100.2,495.8 99.2,496.0 98.2,496.2 97.2,496.4 96.2,496.6 95.2,496.7 94.2,496.7 93.2,496.7 92.2,496.7 91.2,496.7 90.6,496.7" fill="#b4b4dc"/>
<polygon points="106.6,495.0 107.2,495.9 108.2,497.5 109.2,499.1 110.2,500.7 111.2,501.8 112.2,502.9 113.2,504.0 114.2,505.1 115.2,506.2 116.2,507.3 117.2,508.4 118.2,508.9 119.2,509.3 120.2,509.7 121.2,510.1 122.2,510.5 123.2,510.9 124.2,511.3 125.2,511.8 126.2,512.2 127.2,512.6 128.2,513.1 129.2,513.5 130.2,513.9 131.2,514.4 132.2,515.2 133.2,516.4 134.2,517.5 135.2,518.7 136.2,519.9 137.2,521.0 138.2,522.2 139.2,523.2 140.2,524.0 141.2,524.7 142.2,525.4 143.2,526.2 144.2,526.9 145.2,527.6 146.2,528.2 147.2,527.6 148.2,527.0 149.2,526.4 150.2,525.8 151.2,525.2 152.2,524.6 153.2,523.5 154.1,522.6 154.1,522.6 153.2,522.3 152.2,522.1 151.2,521.8 150.2,521.5 149.2,521.3 148.2,521.0 147.2,520.5 146.2,520.0 145.2,519.5 144.2,519.0 143.2,518.5 142.2,518.0 141.2,517.4 140.2,516.5 139.2,515.6 138.2,514.7 137.2,513.8 136.2,512.9 135.2,512.0 134.2,511.1 133.2,510.3 132.2,509.4 131.2,508.6 130.2,507.8 129.2,506.9 128.2,506.1 127.2,505.3 126.2,504.4 125.2,503.6 124.2,502.8 123.2,502.2 122.2,501.5 121.2,500.8 120.2,500.2 119.2,499.5 118.2,498.8 117.2,498.2 116.2,497.5 115.2,496.8 114.2,496.5 113.2,496.3 112.2,496.1 111.2,495.9 110.2,495.7 109.2,495.5 108.2,495.3 107.2,495.1 106.6,495.0" fill="#f6c6c6"/>
<polygon points="154.1,522.6 154.2,522.4 155.2,521.3 156.2,520.3 157.2,519.2 158.2,518.2 159.2,517.9 160.2,517.7 161.2,517.5 162.2,517.2 163.2,517.0 164.2,516.8 165.2,517.0 166.2,517.3 167.2,517.5 168.2,517.7 169.2,518.0 170.2,518.2 171.2,518.4 172.2,518.6 173.2,518.7 174.2,518.8 175.2,518.9 176.2,519.0 177.2,519.0 178.2,519.1 179.2,519.2 180.2,519.0 181.2,518.7 182.2,518.4 183.2,518.1 184.2,517.8 185.2,517.5 186.2,517.2 187.2,517.0 188.2,517.0 189.2,517.0 190.2,517.0 191.2,517.1 192.2,517.1 193.2,517.1 194.2,517.1 195.2,517.1 196.2,517.1 197.2,517.1 198.2,517.1 199.2,517.5 200.2,518.2 200.8,518.5 200.8,518.5 200.2,518.4 199.2,518.1 198.2,517.9 197.2,517.6 196.2,517.4 195.2,517.1 194.2,517.2 193.2,517.3 192.2,517.5 191.2,517.6 190.2,517.7 189.2,517.9 188.2,518.0 187.2,518.1 186.2,518.3 185.2,518.5 184.2,518.7 183.2,518.8 182.2,519.0 181.2,519.2 180.2,519.4 179.2,519.5 178.2,519.7 177.2,519.9 176.2,520.2 175.2,520.6 174.2,520.9 173.2,521.3 172.2,521.6 171.2,521.9 170.2,522.3 169.2,522.4 168.2,522.6 167.2,522.8 166.2,522.9 165.2,523.1 164.2,523.3 163.2,523.5 162.2,523.5 161.2,523.4 160.2,523.3 159.2,523.2 158.2,523.2 157.2,523.1 156.2,523.0 155.2,522.9 154.2,522.6 154.1,522.6" fill="#b4b4dc"/>
<polygon points="200.8,518.5 201.2,518.8 202.2,519.5 203.2,520.2 204.2,520.8 205.2,521.5 206.2,522.1 207.2,522.5 208.2,522.9 209.2,523.4 210.2,523.8 211.2,524.3 212.2,523.3 213.2,522.2 214.2,521.1 215.2,520.0 215.6,519.6 215.6,519.6 215.2,519.7 214.2,520.0 213.2,519.9 212.2,519.9 211.2,519.8 210.2,519.8 209.2,519.7 208.2,519.7 207.2,519.6 206.2,519.6 205.2,519.5 204.2,519.4 203.2,519.1 202.2,518.9 201.2,518.6 200.8,518.5" fill="#f6c6c6"/>
<polygon points="215.6,519.6 216.2,519.0 217.2,517.9 218.2,516.8 219.2,515.5 220.2,513.7 221.2,511.9 222.2,510.0 223.2,508.2 224.2,506.4 225.2,504.5 226.2,502.7 227.2,500.9 228.2,499.2 229.2,499.6 230.2,500.0 231.2,500.3 232.2,500.7 233.2,501.1 234.2,500.7 235.2,500.3 236.2,499.9 237.2,499.5 238.2,499.1 239.2,498.7 240.2,498.3 241.2,497.9 242.2,497.5 243.2,497.1 244.2,496.7 245.2,496.3 246.2,495.9 247.2,495.5 248.2,495.2 249.2,494.8 250.2,494.4 251.2,494.0 252.2,493.9 253.2,495.0 254.2,496.1 255.2,497.3 256.0,498.2 256.0,498.2 255.2,498.4 254.2,498.5 253.2,498.7 252.2,498.8 251.2,499.0 250.2,499.2 249.2,499.8 248.2,500.5 247.2,501.1 246.2,501.8 245.2,502.5 244.2,503.1 243.2,503.8 242.2,504.5 241.2,505.3 240.2,506.0 239.2,506.7 238.2,507.5 237.2,508.2 236.2,509.0 235.2,509.7 234.2,510.4 233.2,511.2 232.2,511.8 231.2,512.4 230.2,513.0 229.2,513.7 228.2,514.3 227.2,514.9 226.2,515.5 225.2,516.2 224.2,516.8 223.2,517.3 222.2,517.6 221.2,517.9 220.2,518.2 219.2,518.5 218.2,518.8 217.2,519.1 216.2,519.4 215.6,519.6" fill="#b4b4dc"/>
<polygon points="256.0,498.2 256.2,498.4 257.2,499.5 258.2,500.9 259.2,502.4 260.2,503.8 261.2,505.3 262.2,506.7 263.2,508.2 264.2,508.3 265.2,508.2 266.2,508.2 267.2,508.1 268.2,508.1 269.2,508.0 270.2,507.7 271.2,507.3 272.2,507.0 273.2,506.6 274.2,506.3 275.2,505.9 276.2,506.3 277.2,506.7 278.2,507.1 279.2,507.5 280.2,507.9 281.2,508.3 282.2,508.6 283.2,509.0 284.2,509.6 285.2,510.2 286.2,510.8 287.2,511.3 288.2,511.9 289.2,512.5 290.2,513.1 291.2,513.8 292.2,514.4 293.2,515.1 294.2,515.8 295.2,516.4 296.2,517.1 297.2,517.8 298.2,518.5 299.2,519.5 300.2,520.5 301.2,521.5 302.2,522.5 303.2,523.3 304.2,523.8 305.2,524.3 306.2,524.8 307.2,525.3 308.2,525.8 309.2,526.3 310.2,526.8 311.2,527.2 312.2,527.6 313.2,528.0 314.2,528.4 315.2,528.8 316.2,528.8 317.2,527.5 318.2,526.2 319.1,524.9 319.1,524.9 318.2,524.8 317.2,524.5 316.2,524.3 315.2,523.8 314.2,523.2 313.2,522.6 312.2,522.0 311.2,521.4 310.2,520.8 309.2,520.2 308.2,519.5 307.2,518.8 306.2,518.2 305.2,517.5 304.2,516.8 303.2,516.2 302.2,515.5 301.2,514.8 300.2,514.2 299.2,513.5 298.2,512.8 297.2,512.2 296.2,511.5 295.2,510.9 294.2,510.6 293.2,510.2 292.2,509.8 291.2,509.4 290.2,509.1 289.2,508.7 288.2,508.3 287.2,507.9 286.2,507.6 285.2,507.2 284.2,506.8 283.2,506.5 282.2,506.1 281.2,505.8 280.2,505.4 279.2,505.0 278.2,504.7 277.2,504.3 276.2,503.9 275.2,503.5 274.2,503.2 273.2,502.8 272.2,502.4 271.2,502.0 270.2,501.7 269.2,501.3 268.2,500.9 267.2,500.5 266.2,500.2 265.2,500.0 264.2,499.7 263.2,499.5 262.2,499.2 261.2,499.0 260.2,498.7 259.2,498.5 258.2,498.2 257.2,498.0 256.2,498.2 256.0,498.2" fill="#f6c6c6"/>
<polygon points="319.1,524.9 319.2,524.8 320.2,524.2 321.2,524.0 322.2,523.8 323.2,523.6 324.2,523.4 325.2,523.2 326.2,523.8 327.2,524.8 328.2,525.3 329.2,524.5 330.2,523.8 331.2,523.0 332.2,522.3 333.2,522.3 334.2,523.0 335.2,523.8 336.2,524.5 336.7,524.9 336.7,524.9 336.2,524.9 335.2,524.9 334.2,525.0 333.2,525.1 332.2,525.2 331.2,525.3 330.2,525.4 329.2,525.5 328.2,525.6 327.2,525.7 326.2,525.8 325.2,525.9 324.2,526.0 323.2,525.8 322.2,525.6 321.2,525.4 320.2,525.2 319.2,525.0 319.1,524.9" fill="#b4b4dc"/>
<polygon points="336.7,524.9 337.2,525.3 338.2,526.0 339.2,525.4 340.2,524.7 340.2,524.7 339.2,524.8 338.2,524.8 337.2,524.9 336.7,524.9" fill="#f6c6c6"/>
<polygon points="340.2,524.7 340.2,524.7 341.2,524.1 342.2,523.4 343.2,522.8 344.2,523.1 345.2,523.7 346.2,524.4 346.7,524.7 346.7,524.7 346.2,524.7 345.2,524.7 344.2,524.6 343.2,524.6 342.2,524.7 341.2,524.7 340.2,524.7 340.2,524.7" fill="#b4b4dc"/>
<polygon points="346.7,524.7 347.2,525.1 348.2,525.7 349.2,526.4 350.2,527.1 351.2,527.2 352.2,526.8 353.2,526.4 354.2,526.0 355.2,525.6 355.8,525.3 355.8,525.3 355.2,525.3 354.2,525.1 353.2,525.0 352.2,525.0 351.2,524.9 350.2,524.9 349.2,524.8 348.2,524.8 347.2,524.8 346.7,524.7" fill="#f6c6c6"/>
<polygon points="355.8,525.3 356.2,525.2 357.2,525.2 358.0,525.6 358.0,525.6 357.2,525.5 356.2,525.4 355.8,525.3" fill="#b4b4dc"/>
<polygon points="358.0,525.6 358.2,525.7 359.2,526.2 360.2,526.7 361.2,527.2 362.2,527.7 363.2,527.8 364.2,527.7 365.2,527.6 366.2,527.5 367.2,527.3 368.2,527.2 369.2,527.1 370.2,527.0 371.2,526.8 372.2,526.7 372.2,526.7 372.2,526.7 372.2,526.7 371.2,526.6 370.2,526.6 369.2,526.5 368.2,526.5 367.2,526.4 366.2,526.4 365.2,526.3 364.2,526.3 363.2,526.2 362.2,526.1 361.2,526.0 360.2,525.9 359.2,525.8 358.2,525.6 358.0,525.6" fill="#f6c6c6"/>
<polygon points="372.2,526.7 373.2,526.0 374.2,525.2 375.2,524.5 376.2,523.8 377.2,523.0 378.2,522.3 379.2,521.5 380.2,521.7 381.2,522.1 382.2,522.5 383.2,522.9 384.2,523.3 385.2,523.7 386.2,524.1 387.2,524.7 387.3,524.8 387.3,524.8 387.2,524.8 386.2,524.7 385.2,524.6 384.2,524.5 383.2,524.4 382.2,524.3 381.2,524.4 380.2,524.7 379.2,524.9 378.2,525.2 377.2,525.5 376.2,525.7 375.2,526.0 374.2,526.2 373.2,526.5 372.2,526.7" fill="#b4b4dc"/>
<polygon points="387.3,524.8 388.2,525.4 389.2,526.1 390.2,526.8 391.2,527.2 392.2,527.6 393.2,528.1 394.2,528.5 395.2,528.9 396.2,529.4 397.2,529.8 398.2,529.2 399.2,528.6 400.2,528.0 401.2,527.4 402.2,526.8 403.2,526.2 404.2,525.6 404.5,525.2 404.5,525.2 404.2,525.3 403.2,525.3 402.2,525.4 401.2,525.4 400.2,525.5 399.2,525.5 398.2,525.4 397.2,525.4 396.2,525.3 395.2,525.3 394.2,525.2 393.2,525.2 392.2,525.1 391.2,525.1 390.2,525.0 389.2,524.9 388.2,524.8 387.3,524.8" fill="#f6c6c6"/>
<polygon points="404.5,525.2 405.2,524.5 406.2,523.2 407.2,522.0 408.2,520.8 409.2,519.5 410.2,518.0 411.2,516.5 412.2,515.0 413.2,513.5 414.2,512.0 415.2,510.6 416.2,509.7 417.2,508.7 418.2,507.8 419.2,506.9 420.2,505.9 421.2,505.0 422.2,504.4 423.2,503.7 424.2,503.0 425.2,502.4 426.2,501.7 427.2,501.1 428.2,500.8 429.2,500.4 430.2,500.1 431.2,499.8 432.2,499.5 433.2,499.2 434.2,499.1 435.2,499.1 436.2,499.0 437.2,498.9 438.2,498.8 439.2,498.8 440.2,498.7 441.2,498.5 442.2,498.2 443.2,498.0 444.2,497.7 445.2,497.5 446.2,497.2 447.2,497.0 448.2,496.7 449.2,496.5 450.2,496.3 451.2,496.4 452.2,496.5 453.2,496.5 454.2,496.6 455.2,496.7 456.2,496.7 457.2,496.8 458.2,496.5 459.2,496.3 460.2,496.0 461.2,495.8 462.2,495.5 463.2,495.3 464.2,495.0 465.2,494.8 466.2,494.5 467.2,494.3 468.2,494.1 469.2,494.0 470.2,493.8 471.2,493.6 472.2,493.5 473.2,493.3 474.2,493.2 475.2,493.2 476.2,493.2 477.2,493.2 478.2,493.2 479.2,493.2 480.2,493.5 481.2,494.1 482.2,494.8 483.2,495.5 483.5,495.6 483.5,495.6 483.2,495.6 482.2,495.6 481.2,495.6 480.2,495.6 479.2,495.6 478.2,495.6 477.2,495.6 476.2,495.6 475.2,495.6 474.2,495.6 473.2,495.7 472.2,495.8 471.2,495.9 470.2,496.1 469.2,496.2 468.2,496.3 467.2,496.4 466.2,496.6 465.2,496.7 464.2,496.8 463.2,497.0 462.2,497.2 461.2,497.4 460.2,497.6 459.2,497.8 458.2,498.0 457.2,498.2 456.2,498.4 455.2,498.6 454.2,498.8 453.2,499.0 452.2,499.1 451.2,499.3 450.2,499.5 449.2,499.7 448.2,499.9 447.2,500.0 446.2,500.2 445.2,500.4 444.2,500.8 443.2,501.2 442.2,501.6 441.2,502.1 440.2,502.5 439.2,502.9 438.2,503.4 437.2,504.0 436.2,504.7 435.2,505.4 434.2,506.2 433.2,506.9 432.2,507.6 431.2,508.3 430.2,509.2 429.2,510.2 428.2,511.2 427.2,512.2 426.2,513.2 425.2,514.2 424.2,515.2 423.2,516.1 422.2,517.0 421.2,517.8 420.2,518.6 419.2,519.5 418.2,520.3 417.2,521.1 416.2,521.9 415.2,522.4 414.2,522.8 413.2,523.3 412.2,523.7 411.2,524.1 410.2,524.6 409.2,525.0 408.2,525.1 407.2,525.1 406.2,525.2 405.2,525.2 404.5,525.2" fill="#b4b4dc"/>
<polygon points="483.5,495.6 484.2,496.1 485.2,496.8 486.2,497.9 487.2,499.6 488.2,501.3 489.2,503.0 490.2,504.8 491.2,506.5 492.2,508.3 493.2,510.3 494.2,512.3 495.2,514.3 496.2,516.3 497.2,517.8 498.2,519.0 499.2,520.2 500.2,521.4 501.2,522.6 502.2,523.8 503.2,524.8 504.2,525.8 505.2,526.7 506.2,527.6 507.2,528.5 508.2,529.4 509.2,529.2 510.2,528.3 511.2,527.4 512.2,526.5 513.2,525.6 514.2,524.7 515.2,523.7 516.2,522.7 516.7,522.2 516.7,522.2 516.2,522.0 515.2,521.5 514.2,520.8 513.2,520.0 512.2,519.2 511.2,518.5 510.2,517.3 509.2,516.1 508.2,514.9 507.2,513.7 506.2,512.5 505.2,511.3 504.2,510.2 503.2,509.0 502.2,507.9 501.2,506.7 500.2,505.6 499.2,504.4 498.2,503.3 497.2,502.3 496.2,501.6 495.2,500.8 494.2,500.0 493.2,499.2 492.2,498.4 491.2,497.7 490.2,497.1 489.2,496.9 488.2,496.7 487.2,496.4 486.2,496.2 485.2,496.0 484.2,495.8 483.5,495.6" fill="#f6c6c6"/>
<polygon points="516.7,522.2 517.2,521.7 518.2,520.6 519.2,519.6 520.2,518.6 521.2,516.9 522.2,514.9 523.2,512.9 524.2,510.9 525.2,508.9 526.2,506.9 527.2,505.5 528.2,504.5 529.2,503.4 530.2,502.3 531.2,501.2 532.2,500.7 533.2,500.3 534.2,499.9 535.2,499.5 536.2,499.1 537.2,498.7 538.2,497.8 539.2,496.7 540.2,495.7 541.2,494.7 542.2,493.6 543.2,492.6 544.2,492.3 545.2,492.2 546.2,492.0 547.2,491.9 548.2,491.7 549.2,491.5 550.2,491.4 551.2,491.3 552.2,491.2 553.2,491.1 554.2,491.0 555.2,491.0 556.2,490.9 557.2,490.8 558.2,490.6 559.2,490.3 560.2,490.0 561.2,489.6 562.2,489.3 563.2,489.0 564.2,488.6 565.2,488.2 566.2,487.7 567.2,487.2 568.2,486.6 569.2,486.1 570.2,485.5 571.2,485.0 572.2,484.5 573.2,484.8 574.2,485.5 575.2,486.2 576.2,487.0 577.2,487.7 578.2,488.4 579.2,489.1 579.2,489.1 578.2,489.1 577.2,489.1 576.2,489.2 575.2,489.5 574.2,489.7 573.2,489.9 572.2,490.2 571.2,490.4 570.2,490.7 569.2,490.9 568.2,491.3 567.2,491.6 566.2,491.9 565.2,492.3 564.2,492.6 563.2,493.0 562.2,493.3 561.2,493.6 560.2,494.0 559.2,494.3 558.2,494.6 557.2,495.0 556.2,495.3 555.2,495.7 554.2,496.3 553.2,497.0 552.2,497.7 551.2,498.3 550.2,499.0 549.2,499.7 548.2,500.3 547.2,501.4 546.2,502.5 545.2,503.6 544.2,504.7 543.2,505.8 542.2,506.9 541.2,508.0 540.2,509.0 539.2,510.1 538.2,511.1 537.2,512.2 536.2,513.3 535.2,514.3 534.2,515.4 533.2,516.3 532.2,517.1 531.2,518.0 530.2,518.8 529.2,519.6 528.2,520.5 527.2,521.3 526.2,522.0 525.2,522.2 524.2,522.4 523.2,522.6 522.2,522.8 521.2,523.0 520.2,523.0 519.2,522.8 518.2,522.5 517.2,522.3 516.7,522.2" fill="#b4b4dc"/>
<polygon points="579.2,489.1 579.2,489.1 580.2,490.1 581.2,491.1 582.2,492.1 583.2,493.1 584.2,494.1 585.2,495.0 586.2,495.4 587.2,495.7 588.2,496.1 589.2,496.5 590.2,496.9 591.2,497.2 592.2,497.4 593.2,497.6 594.2,497.7 595.2,497.9 596.2,498.2 597.2,498.8 598.2,499.4 599.2,500.0 600.2,500.6 601.2,501.2 602.2,502.1 603.2,503.2 604.2,504.4 605.2,505.5 606.2,506.7 607.2,507.8 608.2,509.0 609.2,510.3 610.2,512.0 611.2,513.8 612.2,515.6 613.2,517.4 614.2,518.9 615.2,520.0 616.2,521.2 617.2,522.3 618.2,523.5 619.2,524.2 620.2,524.8 621.2,525.3 622.2,525.9 623.2,526.5 624.2,527.0 625.2,527.6 626.2,527.8 627.2,527.6 628.2,527.4 629.2,527.2 630.2,527.0 631.2,526.8 632.2,526.1 633.2,524.8 634.2,523.6 634.4,523.3 634.4,523.3 634.2,523.2 633.2,522.8 632.2,522.2 631.2,521.8 630.2,521.2 629.2,520.8 628.2,520.2 627.2,519.4 626.2,518.4 625.2,517.5 624.2,516.6 623.2,515.6 622.2,514.7 621.2,513.8 620.2,512.8 619.2,511.9 618.2,511.0 617.2,510.1 616.2,509.1 615.2,508.2 614.2,507.3 613.2,506.3 612.2,505.3 611.2,504.3 610.2,503.3 609.2,502.2 608.2,501.2 607.2,500.2 606.2,499.3 605.2,498.7 604.2,498.0 603.2,497.4 602.2,496.7 601.2,496.1 600.2,495.4 599.2,494.8 598.2,494.3 597.2,493.9 596.2,493.4 595.2,492.9 594.2,492.4 593.2,492.0 592.2,491.5 591.2,491.2 590.2,490.9 589.2,490.6 588.2,490.3 587.2,490.0 586.2,489.7 585.2,489.5 584.2,489.2 583.2,489.1 582.2,489.1 581.2,489.1 580.2,489.1 579.2,489.1 579.2,489.1" fill="#f6c6c6"/>
<polygon points="634.4,523.3 635.2,522.3 636.2,521.1 637.2,520.3 638.2,519.7 639.2,519.1 640.2,518.5 641.2,517.9 642.2,517.3 643.2,517.1 644.2,517.1 645.2,517.1 646.2,517.1 647.2,517.1 648.2,517.1 649.2,517.5 650.2,518.0 651.2,518.5 652.2,519.0 653.2,519.5 654.2,520.0 655.2,520.5 656.2,520.9 656.2,520.9 655.2,521.1 654.2,521.4 653.2,521.7 652.2,521.9 651.2,522.2 650.2,522.5 649.2,522.7 648.2,523.0 647.2,523.2 646.2,523.4 645.2,523.7 644.2,523.9 643.2,524.1 642.2,524.3 641.2,524.2 640.2,524.1 639.2,524.1 638.2,524.0 637.2,523.9 636.2,523.9 635.2,523.8 634.4,523.3" fill="#b4b4dc"/>
<polygon points="656.2,520.9 656.2,520.9 657.2,521.3 658.2,521.7 659.2,522.1 660.2,522.5 661.2,522.9 662.2,523.1 663.2,523.1 664.2,523.1 665.2,523.1 666.2,523.1 667.2,523.1 668.2,523.1 669.2,523.1 670.2,523.1 671.2,523.1 672.2,523.1 673.2,523.6 674.2,524.2 675.2,524.8 676.2,525.4 677.2,526.0 678.2,526.6 679.2,526.1 680.2,525.4 681.2,524.6 682.2,523.9 682.8,523.4 682.8,523.4 682.2,523.4 681.2,523.3 680.2,523.2 679.2,523.2 678.2,523.0 677.2,522.8 676.2,522.5 675.2,522.3 674.2,522.0 673.2,521.7 672.2,521.5 671.2,521.2 670.2,521.1 669.2,520.9 668.2,520.8 667.2,520.6 666.2,520.5 665.2,520.4 664.2,520.2 663.2,520.3 662.2,520.3 661.2,520.4 660.2,520.5 659.2,520.5 658.2,520.6 657.2,520.7 656.2,520.9 656.2,520.9" fill="#f6c6c6"/>
<polygon points="682.8,523.4 683.2,523.1 684.2,521.9 685.2,520.7 686.2,519.5 687.2,518.3 688.2,517.1 689.2,515.9 690.2,514.2 691.2,512.6 692.2,510.9 693.2,509.3 694.2,507.6 695.2,505.9 696.2,505.1 697.2,505.1 698.2,505.1 699.2,505.1 700.2,505.1 701.2,505.1 702.2,505.1 703.2,505.1 704.2,505.1 705.2,505.1 706.2,505.1 707.2,505.1 708.2,505.9 709.2,506.7 710.2,507.5 711.2,508.4 712.1,509.1 712.1,509.1 711.2,509.3 710.2,509.7 709.2,510.0 708.2,510.4 707.2,510.7 706.2,511.4 705.2,512.1 704.2,512.9 703.2,513.6 702.2,514.3 701.2,515.0 700.2,515.8 699.2,516.4 698.2,517.1 697.2,517.8 696.2,518.4 695.2,519.1 694.2,519.8 693.2,520.4 692.2,520.9 691.2,521.3 690.2,521.7 689.2,522.1 688.2,522.6 687.2,523.0 686.2,523.4 685.2,523.6 684.2,523.5 683.2,523.4 682.8,523.4" fill="#b4b4dc"/>
<polygon points="712.1,509.1 712.2,509.2 713.2,510.0 714.2,510.7 715.2,511.4 716.2,512.2 717.2,512.9 718.2,513.7 719.2,514.4 720.2,515.1 721.2,515.2 722.2,515.2 723.2,515.2 724.2,515.2 725.2,515.2 726.2,515.2 727.2,515.2 728.2,515.2 729.2,515.2 730.2,515.2 731.2,515.1 732.2,514.4 733.2,513.6 734.2,512.9 734.3,512.8 734.3,512.8 734.2,512.7 733.2,512.5 732.2,512.3 731.2,512.1 730.2,511.9 729.2,511.7 728.2,511.4 727.2,511.1 726.2,510.8 725.2,510.4 724.2,510.1 723.2,509.8 722.2,509.4 721.2,509.2 720.2,509.0 719.2,508.9 718.2,508.8 717.2,508.7 716.2,508.5 715.2,508.4 714.2,508.3 713.2,508.7 712.2,509.0 712.1,509.1" fill="#f6c6c6"/>
<polygon points="734.3,512.8 735.2,512.1 736.2,511.4 737.2,510.6 738.2,509.9 739.2,509.2 740.2,508.4 741.2,507.7 742.2,507.0 743.2,506.2 744.2,504.7 745.2,503.2 746.2,501.7 747.2,500.2 748.2,498.7 749.2,498.8 750.2,499.3 751.2,499.8 752.2,500.3 753.2,500.8 754.2,501.5 755.2,502.7 756.2,503.9 757.2,505.1 757.9,505.9 757.9,505.9 757.2,506.0 756.2,506.4 755.2,506.8 754.2,507.2 753.2,507.6 752.2,508.0 751.2,508.3 750.2,508.7 749.2,509.2 748.2,509.7 747.2,510.2 746.2,510.7 745.2,511.2 744.2,511.7 743.2,512.2 742.2,512.4 741.2,512.5 740.2,512.6 739.2,512.7 738.2,512.8 737.2,513.0 736.2,513.1 735.2,513.0 734.3,512.8" fill="#b4b4dc"/>
<polygon points="757.9,505.9 758.2,506.3 759.2,507.5 760.2,508.3 761.2,508.3 762.2,508.3 763.2,508.3 764.2,508.3 765.2,508.3 766.2,508.3 766.6,508.3 766.6,504.4 766.2,504.5 765.2,504.6 764.2,504.8 763.2,505.0 762.2,505.1 761.2,505.3 760.2,505.5 759.2,505.6 758.2,505.8 757.9,505.9" fill="#f6c6c6"/>
<rect x="1" y="487" width="784" height="1" fill="#2020d0" shape-rendering="crispEdges"/>
<rect x="1" y="523" width="784" height="1" fill="#2020d0" shape-rendering="crispEdges"/>
<polyline points="1.2,507.9 9.6,519.9 16.8,525.9 24.0,523.0 31.1,517.5 40.7,509.6 50.3,506.7 57.5,503.1 63.5,497.1 69.5,495.2 79.0,497.1 87.4,500.3 93.4,493.5 104.2,491.1 110.2,500.7 117.4,508.6 124.6,511.5 131.7,514.6 138.9,523.0 146.1,528.3 152.1,524.7 158.1,518.2 164.1,516.8 172.5,518.7 179.6,519.2 186.8,517.0 195.0,517.1 198.6,517.1 205.8,521.9 211.3,524.3 219.0,515.9 228.1,499.2 233.3,501.1 242.9,497.2 252.0,493.7 257.3,499.6 263.3,508.3 269.3,508.0 275.2,505.9 283.6,509.2 290.8,513.5 298.0,518.3 302.8,523.1 310.0,526.7 316.0,529.1 319.6,524.3 325.5,523.1 327.9,525.5 332.7,521.9 338.2,526.0 343.5,522.6 350.7,527.4 356.7,525.0 362.7,527.9 372.2,526.7 379.4,521.4 386.6,524.3 390.0,526.7 397.2,529.8 404.4,525.5 409.2,519.5 415.1,510.7 421.1,505.1 427.1,501.1 433.1,499.2 440.3,498.7 449.9,496.3 457.1,496.8 466.6,494.4 473.8,493.2 479.8,493.2 485.8,497.2 491.8,507.5 496.6,517.1 502.6,524.3 508.6,529.8 514.6,524.3 520.5,518.3 526.5,506.3 531.3,501.1 537.3,498.7 543.3,492.5 550.5,491.3 557.7,490.8 564.9,488.4 572.5,484.3 579.2,489.1 585.0,494.9 591.0,497.2 595.8,498.0 601.8,501.6 609.0,509.9 613.7,518.3 618.5,523.8 625.7,527.9 631.7,526.7 636.5,520.7 642.5,517.1 648.5,517.1 654.5,520.2 661.6,523.1 672.4,523.1 678.4,526.7 683.2,523.1 689.2,515.9 695.7,505.1 707.2,505.1 713.1,509.9 720.3,515.2 731.1,515.2 737.1,510.7 743.1,506.3 748.4,498.4 753.9,501.1 759.9,508.3 766.6,508.3" fill="none" stroke="#000" stroke-width="2.2" stroke-linejoin="round" stroke-linecap="round"/>
<polyline points="1.2,498.3 9.6,509.1 19.2,518.7 26.3,522.3 33.5,522.8 40.7,519.2 47.9,513.9 57.5,507.2 67.1,501.9 76.6,498.3 86.2,496.7 95.8,496.7 105.4,494.7 115.0,496.7 124.6,503.1 134.1,511.0 141.3,517.5 148.5,521.1 155.7,523.0 162.9,523.5 170.1,522.3 177.2,519.9 186.8,518.2 195.0,517.1 204.6,519.5 214.2,520.0 223.7,517.1 233.3,511.1 242.9,504.0 250.1,499.2 257.3,498.0 266.9,500.4 276.4,504.0 286.0,507.5 295.6,511.1 302.8,515.9 310.0,520.7 316.0,524.3 324.3,526.0 333.9,525.0 343.5,524.6 353.1,525.0 362.7,526.2 372.2,526.7 381.8,524.3 390.0,525.0 399.6,525.5 409.2,525.0 416.3,521.9 423.5,515.9 430.7,508.7 437.9,503.5 445.1,500.4 454.7,498.7 464.3,496.8 473.8,495.6 483.4,495.6 490.6,497.2 497.8,502.8 505.0,511.1 511.0,518.3 515.7,521.9 520.5,523.1 526.5,521.9 533.7,515.9 540.9,508.3 548.1,500.4 555.3,495.6 562.5,493.2 569.6,490.8 576.8,489.1 584.0,489.1 592.2,491.5 599.4,494.9 606.6,499.6 613.7,506.8 620.9,513.5 628.1,520.2 635.3,523.8 642.5,524.3 649.7,522.6 656.9,520.7 664.0,520.2 671.2,521.2 678.4,523.1 685.6,523.6 692.8,520.7 700.0,515.9 707.2,510.7 714.3,508.3 721.5,509.2 728.7,511.6 735.9,513.1 743.1,512.3 750.3,508.7 757.5,505.9 766.6,504.4" fill="none" stroke="#e06464" stroke-width="2.2" stroke-linejoin="round" stroke-linecap="round"/>
</g>
<g shape-rendering="crispEdges">
<rect x="1" y="470" width="20" height="14" fill="url(#tab)"/>
<rect x="20" y="470" width="1" height="14" fill="#9fb1bc"/>
<rect x="1" y="483" width="20" height="1" fill="#9fb1bc"/>
</g>
<text x="3" y="479.6" font-size="11" fill="#000" font-weight="bold" stroke="#000" stroke-width="0.3" text-anchor="start" textLength="15" lengthAdjust="spacingAndGlyphs">%K</text>
<g shape-rendering="crispEdges">
<rect x="21" y="470" width="66" height="14" fill="url(#tab)"/>
<rect x="86" y="470" width="1" height="14" fill="#9fb1bc"/>
<rect x="21" y="483" width="66" height="1" fill="#9fb1bc"/>
</g>
<text x="24" y="479.6" font-size="11" fill="#e06060" font-weight="bold" stroke="#e06060" stroke-width="0.3" text-anchor="start" textLength="58.7" lengthAdjust="spacingAndGlyphs">%D ( 14 3 5)</text>
<g clip-path="url(#cm)">
<g shape-rendering="crispEdges">
<rect x="3" y="563" width="4" height="6" fill="#c03030"/>
<rect x="4" y="563" width="2" height="5" fill="#f08080"/>
<rect x="9" y="563" width="4" height="6" fill="#c03030"/>
<rect x="10" y="563" width="2" height="5" fill="#f08080"/>
<rect x="15" y="563" width="4" height="6" fill="#c03030"/>
<rect x="16" y="563" width="2" height="5" fill="#f08080"/>
<rect x="20" y="563" width="4" height="6" fill="#c03030"/>
<rect x="21" y="563" width="2" height="5" fill="#f08080"/>
<rect x="26" y="563" width="4" height="5" fill="#c03030"/>
<rect x="27" y="563" width="2" height="4" fill="#f08080"/>
<rect x="32" y="563" width="4" height="3" fill="#c03030"/>
<rect x="33" y="563" width="2" height="2" fill="#f08080"/>
<rect x="38" y="563" width="4" height="2" fill="#c03030"/>
<rect x="39" y="563" width="2" height="1" fill="#f08080"/>
<rect x="44" y="563" width="4" height="2" fill="#c03030"/>
<rect x="45" y="563" width="2" height="1" fill="#f08080"/>
<rect x="50" y="563" width="4" height="1" fill="#c03030"/>
<rect x="56" y="563" width="4" height="1" fill="#c03030"/>
<rect x="61" y="563" width="4" height="1" fill="#c03030"/>
<rect x="67" y="563" width="4" height="1" fill="#c03030"/>
<rect x="73" y="563" width="4" height="1" fill="#c03030"/>
<rect x="79" y="563" width="4" height="1" fill="#c03030"/>
<rect x="85" y="563" width="4" height="1" fill="#c03030"/>
<rect x="91" y="558" width="4" height="4" fill="#1e9a1e"/>
<rect x="92" y="559" width="2" height="3" fill="#5fe05f"/>
<rect x="97" y="556" width="4" height="6" fill="#1e9a1e"/>
<rect x="98" y="557" width="2" height="5" fill="#5fe05f"/>
<rect x="102" y="556" width="4" height="6" fill="#1e9a1e"/>
<rect x="103" y="557" width="2" height="5" fill="#5fe05f"/>
<rect x="108" y="558" width="4" height="4" fill="#1e9a1e"/>
<rect x="109" y="559" width="2" height="3" fill="#5fe05f"/>
<rect x="114" y="560" width="4" height="2" fill="#1e9a1e"/>
<rect x="115" y="561" width="2" height="1" fill="#5fe05f"/>
<rect x="120" y="561" width="4" height="1" fill="#1e9a1e"/>
<rect x="132" y="563" width="4" height="3" fill="#c03030"/>
<rect x="133" y="563" width="2" height="2" fill="#f08080"/>
<rect x="137" y="563" width="4" height="7" fill="#c03030"/>
<rect x="138" y="563" width="2" height="6" fill="#f08080"/>
<rect x="143" y="563" width="4" height="9" fill="#c03030"/>
<rect x="144" y="563" width="2" height="8" fill="#f08080"/>
<rect x="149" y="563" width="4" height="8" fill="#c03030"/>
<rect x="150" y="563" width="2" height="7" fill="#f08080"/>
<rect x="155" y="563" width="4" height="8" fill="#c03030"/>
<rect x="156" y="563" width="2" height="7" fill="#f08080"/>
<rect x="161" y="563" width="4" height="8" fill="#c03030"/>
<rect x="162" y="563" width="2" height="7" fill="#f08080"/>
<rect x="167" y="563" width="4" height="7" fill="#c03030"/>
<rect x="168" y="563" width="2" height="6" fill="#f08080"/>
<rect x="173" y="563" width="4" height="7" fill="#c03030"/>
<rect x="174" y="563" width="2" height="6" fill="#f08080"/>
<rect x="178" y="563" width="4" height="7" fill="#c03030"/>
<rect x="179" y="563" width="2" height="6" fill="#f08080"/>
<rect x="184" y="563" width="4" height="6" fill="#c03030"/>
<rect x="185" y="563" width="2" height="5" fill="#f08080"/>
<rect x="190" y="563" width="4" height="6" fill="#c03030"/>
<rect x="191" y="563" width="2" height="5" fill="#f08080"/>
<rect x="196" y="563" width="4" height="6" fill="#c03030"/>
<rect x="197" y="563" width="2" height="5" fill="#f08080"/>
<rect x="202" y="563" width="4" height="6" fill="#c03030"/>
<rect x="203" y="563" width="2" height="5" fill="#f08080"/>
<rect x="208" y="563" width="4" height="5" fill="#c03030"/>
<rect x="209" y="563" width="2" height="4" fill="#f08080"/>
<rect x="214" y="563" width="4" height="4" fill="#c03030"/>
<rect x="215" y="563" width="2" height="3" fill="#f08080"/>
<rect x="219" y="563" width="4" height="2" fill="#c03030"/>
<rect x="220" y="563" width="2" height="1" fill="#f08080"/>
<rect x="225" y="563" width="4" height="1" fill="#c03030"/>
<rect x="237" y="561" width="4" height="1" fill="#1e9a1e"/>
<rect x="243" y="560" width="4" height="2" fill="#1e9a1e"/>
<rect x="244" y="561" width="2" height="1" fill="#5fe05f"/>
<rect x="249" y="559" width="4" height="3" fill="#1e9a1e"/>
<rect x="250" y="560" width="2" height="2" fill="#5fe05f"/>
<rect x="255" y="559" width="4" height="3" fill="#1e9a1e"/>
<rect x="256" y="560" width="2" height="2" fill="#5fe05f"/>
<rect x="260" y="559" width="4" height="3" fill="#1e9a1e"/>
<rect x="261" y="560" width="2" height="2" fill="#5fe05f"/>
<rect x="266" y="559" width="4" height="3" fill="#1e9a1e"/>
<rect x="267" y="560" width="2" height="2" fill="#5fe05f"/>
<rect x="272" y="559" width="4" height="3" fill="#1e9a1e"/>
<rect x="273" y="560" width="2" height="2" fill="#5fe05f"/>
<rect x="278" y="560" width="4" height="2" fill="#1e9a1e"/>
<rect x="279" y="561" width="2" height="1" fill="#5fe05f"/>
<rect x="284" y="561" width="4" height="1" fill="#1e9a1e"/>
<rect x="296" y="563" width="4" height="1" fill="#c03030"/>
<rect x="301" y="563" width="4" height="1" fill="#c03030"/>
<rect x="307" y="563" width="4" height="1" fill="#c03030"/>
<rect x="313" y="563" width="4" height="1" fill="#c03030"/>
<rect x="319" y="563" width="4" height="2" fill="#c03030"/>
<rect x="320" y="563" width="2" height="1" fill="#f08080"/>
<rect x="325" y="563" width="4" height="2" fill="#c03030"/>
<rect x="326" y="563" width="2" height="1" fill="#f08080"/>
<rect x="331" y="563" width="4" height="2" fill="#c03030"/>
<rect x="332" y="563" width="2" height="1" fill="#f08080"/>
<rect x="336" y="563" width="4" height="2" fill="#c03030"/>
<rect x="337" y="563" width="2" height="1" fill="#f08080"/>
<rect x="342" y="563" width="4" height="3" fill="#c03030"/>
<rect x="343" y="563" width="2" height="2" fill="#f08080"/>
<rect x="348" y="563" width="4" height="5" fill="#c03030"/>
<rect x="349" y="563" width="2" height="4" fill="#f08080"/>
<rect x="354" y="563" width="4" height="8" fill="#c03030"/>
<rect x="355" y="563" width="2" height="7" fill="#f08080"/>
<rect x="360" y="563" width="4" height="8" fill="#c03030"/>
<rect x="361" y="563" width="2" height="7" fill="#f08080"/>
<rect x="366" y="563" width="4" height="8" fill="#c03030"/>
<rect x="367" y="563" width="2" height="7" fill="#f08080"/>
<rect x="372" y="563" width="4" height="7" fill="#c03030"/>
<rect x="373" y="563" width="2" height="6" fill="#f08080"/>
<rect x="377" y="563" width="4" height="7" fill="#c03030"/>
<rect x="378" y="563" width="2" height="6" fill="#f08080"/>
<rect x="383" y="563" width="4" height="8" fill="#c03030"/>
<rect x="384" y="563" width="2" height="7" fill="#f08080"/>
<rect x="389" y="563" width="4" height="8" fill="#c03030"/>
<rect x="390" y="563" width="2" height="7" fill="#f08080"/>
<rect x="395" y="563" width="4" height="8" fill="#c03030"/>
<rect x="396" y="563" width="2" height="7" fill="#f08080"/>
<rect x="401" y="563" width="4" height="9" fill="#c03030"/>
<rect x="402" y="563" width="2" height="8" fill="#f08080"/>
<rect x="407" y="563" width="4" height="8" fill="#c03030"/>
<rect x="408" y="563" width="2" height="7" fill="#f08080"/>
<rect x="413" y="563" width="4" height="6" fill="#c03030"/>
<rect x="414" y="563" width="2" height="5" fill="#f08080"/>
<rect x="418" y="563" width="4" height="3" fill="#c03030"/>
<rect x="419" y="563" width="2" height="2" fill="#f08080"/>
<rect x="424" y="563" width="4" height="1" fill="#c03030"/>
<rect x="436" y="561" width="4" height="1" fill="#1e9a1e"/>
<rect x="442" y="560" width="4" height="2" fill="#1e9a1e"/>
<rect x="443" y="561" width="2" height="1" fill="#5fe05f"/>
<rect x="448" y="560" width="4" height="2" fill="#1e9a1e"/>
<rect x="449" y="561" width="2" height="1" fill="#5fe05f"/>
<rect x="454" y="560" width="4" height="2" fill="#1e9a1e"/>
<rect x="455" y="561" width="2" height="1" fill="#5fe05f"/>
<rect x="459" y="560" width="4" height="2" fill="#1e9a1e"/>
<rect x="460" y="561" width="2" height="1" fill="#5fe05f"/>
<rect x="465" y="559" width="4" height="3" fill="#1e9a1e"/>
<rect x="466" y="560" width="2" height="2" fill="#5fe05f"/>
<rect x="471" y="559" width="4" height="3" fill="#1e9a1e"/>
<rect x="472" y="560" width="2" height="2" fill="#5fe05f"/>
<rect x="477" y="559" width="4" height="3" fill="#1e9a1e"/>
<rect x="478" y="560" width="2" height="2" fill="#5fe05f"/>
<rect x="483" y="559" width="4" height="3" fill="#1e9a1e"/>
<rect x="484" y="560" width="2" height="2" fill="#5fe05f"/>
<rect x="489" y="559" width="4" height="3" fill="#1e9a1e"/>
<rect x="490" y="560" width="2" height="2" fill="#5fe05f"/>
<rect x="495" y="560" width="4" height="2" fill="#1e9a1e"/>
<rect x="496" y="561" width="2" height="1" fill="#5fe05f"/>
<rect x="500" y="560" width="4" height="2" fill="#1e9a1e"/>
<rect x="501" y="561" width="2" height="1" fill="#5fe05f"/>
<rect x="506" y="561" width="4" height="1" fill="#1e9a1e"/>
<rect x="512" y="561" width="4" height="1" fill="#1e9a1e"/>
<rect x="518" y="561" width="4" height="1" fill="#1e9a1e"/>
<rect x="524" y="560" width="4" height="2" fill="#1e9a1e"/>
<rect x="525" y="561" width="2" height="1" fill="#5fe05f"/>
<rect x="530" y="559" width="4" height="3" fill="#1e9a1e"/>
<rect x="531" y="560" width="2" height="2" fill="#5fe05f"/>
<rect x="535" y="559" width="4" height="3" fill="#1e9a1e"/>
<rect x="536" y="560" width="2" height="2" fill="#5fe05f"/>
<rect x="541" y="558" width="4" height="4" fill="#1e9a1e"/>
<rect x="542" y="559" width="2" height="3" fill="#5fe05f"/>
<rect x="547" y="556" width="4" height="6" fill="#1e9a1e"/>
<rect x="548" y="557" width="2" height="5" fill="#5fe05f"/>
<rect x="553" y="556" width="4" height="6" fill="#1e9a1e"/>
<rect x="554" y="557" width="2" height="5" fill="#5fe05f"/>
<rect x="559" y="556" width="4" height="6" fill="#1e9a1e"/>
<rect x="560" y="557" width="2" height="5" fill="#5fe05f"/>
<rect x="565" y="556" width="4" height="6" fill="#1e9a1e"/>
<rect x="566" y="557" width="2" height="5" fill="#5fe05f"/>
<rect x="571" y="556" width="4" height="6" fill="#1e9a1e"/>
<rect x="572" y="557" width="2" height="5" fill="#5fe05f"/>
<rect x="576" y="557" width="4" height="5" fill="#1e9a1e"/>
<rect x="577" y="558" width="2" height="4" fill="#5fe05f"/>
<rect x="582" y="559" width="4" height="3" fill="#1e9a1e"/>
<rect x="583" y="560" width="2" height="2" fill="#5fe05f"/>
<rect x="588" y="559" width="4" height="3" fill="#1e9a1e"/>
<rect x="589" y="560" width="2" height="2" fill="#5fe05f"/>
<rect x="594" y="559" width="4" height="3" fill="#1e9a1e"/>
<rect x="595" y="560" width="2" height="2" fill="#5fe05f"/>
<rect x="600" y="560" width="4" height="2" fill="#1e9a1e"/>
<rect x="601" y="561" width="2" height="1" fill="#5fe05f"/>
<rect x="606" y="561" width="4" height="1" fill="#1e9a1e"/>
<rect x="617" y="563" width="4" height="1" fill="#c03030"/>
<rect x="623" y="563" width="4" height="1" fill="#c03030"/>
<rect x="629" y="563" width="4" height="1" fill="#c03030"/>
<rect x="635" y="563" width="4" height="1" fill="#c03030"/>
<rect x="641" y="563" width="4" height="1" fill="#c03030"/>
<rect x="647" y="563" width="4" height="1" fill="#c03030"/>
<rect x="653" y="563" width="4" height="1" fill="#c03030"/>
<rect x="658" y="563" width="4" height="1" fill="#c03030"/>
<rect x="664" y="563" width="4" height="1" fill="#c03030"/>
<rect x="670" y="563" width="4" height="1" fill="#c03030"/>
<rect x="676" y="563" width="4" height="1" fill="#c03030"/>
<rect x="694" y="561" width="4" height="1" fill="#1e9a1e"/>
<rect x="699" y="561" width="4" height="1" fill="#1e9a1e"/>
<rect x="705" y="561" width="4" height="1" fill="#1e9a1e"/>
<rect x="711" y="561" width="4" height="1" fill="#1e9a1e"/>
<rect x="717" y="561" width="4" height="1" fill="#1e9a1e"/>
<rect x="723" y="561" width="4" height="1" fill="#1e9a1e"/>
<rect x="729" y="561" width="4" height="1" fill="#1e9a1e"/>
<rect x="734" y="561" width="4" height="1" fill="#1e9a1e"/>
<rect x="740" y="561" width="4" height="1" fill="#1e9a1e"/>
<rect x="746" y="561" width="4" height="1" fill="#1e9a1e"/>
<rect x="752" y="561" width="4" height="1" fill="#1e9a1e"/>
<rect x="764" y="561" width="4" height="1" fill="#1e9a1e"/>
</g>
<polygon points="1.2,549.0 2.2,549.2 3.2,549.4 4.2,549.5 5.2,549.7 6.2,549.9 7.2,550.1 8.2,550.3 9.2,550.4 10.2,550.6 11.2,550.8 12.2,551.0 13.2,551.2 14.2,551.4 15.2,551.6 16.2,551.8 17.2,552.1 18.2,552.4 19.2,552.6 20.2,552.6 21.2,552.6 22.2,552.6 23.2,552.6 24.2,552.6 25.2,552.6 26.2,552.6 27.2,552.6 28.2,552.6 29.2,552.6 30.2,552.6 31.2,552.6 32.2,552.6 33.2,552.6 34.2,552.6 35.2,552.6 36.2,552.6 37.2,552.6 38.2,552.6 39.2,552.6 40.2,552.6 41.2,552.5 42.2,552.2 43.2,551.9 44.2,551.6 45.2,551.3 46.2,551.0 47.2,551.0 48.2,551.0 49.2,551.0 50.2,551.0 51.2,551.0 52.2,551.1 53.2,551.6 54.2,552.2 55.2,552.6 56.2,552.6 57.2,552.6 58.2,552.6 59.2,552.6 60.2,552.6 61.2,552.6 62.2,552.6 63.2,552.6 64.2,552.6 65.2,552.6 66.2,552.6 67.2,552.6 68.2,552.6 69.2,552.6 70.2,552.6 71.2,552.6 72.2,552.6 73.2,552.6 74.2,552.6 75.2,552.6 76.2,552.6 77.2,552.6 78.2,552.6 79.2,552.6 80.2,552.6 81.2,552.6 82.2,552.6 83.2,552.6 84.2,552.6 85.2,552.6 86.2,552.6 87.2,552.6 88.2,552.6 89.2,552.5 90.2,552.1 91.2,551.6 92.2,551.2 93.2,550.8 94.2,550.3 95.2,549.9 96.2,549.7 97.2,549.4 98.2,549.1 99.2,548.9 100.2,548.6 101.2,548.3 102.2,548.1 103.2,547.8 104.2,547.5 105.2,547.3 106.2,547.0 107.2,546.7 108.2,546.5 109.2,546.2 110.2,546.0 111.2,546.2 112.2,546.3 113.2,546.4 114.2,546.6 115.2,546.7 116.2,546.8 117.2,547.0 118.2,547.1 119.2,547.2 120.2,547.4 121.2,547.5 122.2,547.6 123.2,547.8 124.2,547.9 125.2,548.1 126.2,548.5 127.2,548.8 128.2,549.2 129.2,549.6 130.2,550.0 131.2,550.3 132.2,550.7 133.2,551.1 134.2,551.5 135.2,551.9 136.2,552.2 137.2,552.6 138.2,553.2 139.2,553.9 140.2,554.6 141.2,555.3 142.2,556.0 143.2,556.7 144.2,557.4 145.2,558.2 146.2,558.8 147.2,559.1 148.2,559.3 149.2,559.5 150.2,559.8 151.2,560.0 152.2,560.3 153.2,560.5 154.2,560.7 155.2,561.0 156.2,561.2 157.2,561.5 158.2,561.8 159.2,562.0 160.2,562.3 161.2,562.6 162.2,562.8 163.2,563.1 164.2,563.4 165.2,563.6 166.2,563.9 167.2,564.2 168.2,564.4 169.2,564.6 170.2,564.8 171.2,565.0 172.2,565.2 173.2,565.4 174.2,565.6 175.2,565.8 176.2,566.0 177.2,566.2 178.2,566.4 179.2,566.6 180.2,566.8 181.2,567.1 182.2,567.3 183.2,567.5 184.2,567.8 185.2,568.0 186.2,568.2 187.2,568.5 188.2,568.7 189.2,568.9 190.2,569.2 191.2,569.4 192.2,569.6 193.2,569.8 194.2,570.0 195.2,570.1 196.2,570.4 197.2,570.6 198.2,570.9 199.2,571.1 200.2,571.3 201.2,571.6 202.2,571.8 203.2,572.2 204.2,572.5 205.2,572.9 206.2,573.3 207.2,573.6 208.2,574.0 209.2,574.4 210.2,574.8 211.2,574.8 212.2,574.6 213.2,574.4 214.2,574.2 215.2,574.0 216.2,573.8 217.2,573.6 218.2,573.5 219.2,573.2 220.2,572.9 221.2,572.6 222.2,572.2 223.2,571.9 224.2,571.5 225.2,571.2 226.2,570.9 227.2,570.5 228.2,570.2 228.9,570.1 228.9,570.1 228.2,570.1 227.2,570.1 226.2,570.1 225.2,570.1 224.2,570.1 223.2,570.1 222.2,570.1 221.2,570.1 220.2,570.1 219.2,570.1 218.2,570.0 217.2,569.9 216.2,569.7 215.2,569.6 214.2,569.5 213.2,569.3 212.2,569.2 211.2,569.1 210.2,568.9 209.2,568.6 208.2,568.3 207.2,568.0 206.2,567.7 205.2,567.5 204.2,567.2 203.2,566.9 202.2,566.6 201.2,566.3 200.2,565.9 199.2,565.6 198.2,565.3 197.2,564.9 196.2,564.6 195.2,564.3 194.2,564.0 193.2,563.8 192.2,563.5 191.2,563.3 190.2,563.0 189.2,562.8 188.2,562.6 187.2,562.3 186.2,562.1 185.2,561.9 184.2,561.6 183.2,561.4 182.2,561.2 181.2,560.9 180.2,560.7 179.2,560.5 178.2,560.2 177.2,560.0 176.2,559.7 175.2,559.5 174.2,559.2 173.2,559.0 172.2,558.7 171.2,558.5 170.2,558.2 169.2,558.0 168.2,557.7 167.2,557.5 166.2,557.2 165.2,557.0 164.2,556.7 163.2,556.5 162.2,556.2 161.2,555.9 160.2,555.7 159.2,555.4 158.2,555.1 157.2,554.8 156.2,554.6 155.2,554.3 154.2,554.0 153.2,553.8 152.2,553.5 151.2,553.2 150.2,552.9 149.2,552.6 148.2,552.2 147.2,551.8 146.2,551.4 145.2,551.0 144.2,550.6 143.2,550.3 142.2,549.9 141.2,549.5 140.2,549.1 139.2,548.8 138.2,548.6 137.2,548.4 136.2,548.2 135.2,548.0 134.2,547.8 133.2,547.6 132.2,547.4 131.2,547.2 130.2,547.0 129.2,546.8 128.2,546.6 127.2,546.4 126.2,546.2 125.2,546.0 124.2,545.8 123.2,545.6 122.2,545.4 121.2,545.2 120.2,545.0 119.2,545.0 118.2,545.0 117.2,545.0 116.2,544.9 115.2,544.9 114.2,544.9 113.2,544.9 112.2,544.9 111.2,544.9 110.2,544.8 109.2,544.8 108.2,544.8 107.2,544.8 106.2,544.8 105.2,544.8 104.2,544.7 103.2,544.7 102.2,544.7 101.2,544.7 100.2,544.7 99.2,544.7 98.2,544.6 97.2,544.6 96.2,544.6 95.2,544.6 94.2,544.6 93.2,544.6 92.2,544.5 91.2,544.5 90.2,544.5 89.2,544.5 88.2,544.5 87.2,544.5 86.2,544.4 85.2,544.4 84.2,544.4 83.2,544.4 82.2,544.4 81.2,544.4 80.2,544.3 79.2,544.3 78.2,544.3 77.2,544.3 76.2,544.3 75.2,544.3 74.2,544.2 73.2,544.2 72.2,544.2 71.2,544.2 70.2,544.2 69.2,544.2 68.2,544.1 67.2,544.1 66.2,544.1 65.2,544.1 64.2,544.1 63.2,544.1 62.2,544.0 61.2,544.0 60.2,544.0 59.2,544.0 58.2,544.0 57.2,544.0 56.2,544.1 55.2,544.1 54.2,544.1 53.2,544.1 52.2,544.1 51.2,544.1 50.2,544.2 49.2,544.2 48.2,544.2 47.2,544.2 46.2,544.2 45.2,544.3 44.2,544.3 43.2,544.3 42.2,544.3 41.2,544.3 40.2,544.3 39.2,544.4 38.2,544.4 37.2,544.4 36.2,544.4 35.2,544.4 34.2,544.4 33.2,544.5 32.2,544.5 31.2,544.5 30.2,544.5 29.2,544.5 28.2,544.5 27.2,544.6 26.2,544.6 25.2,544.6 24.2,544.6 23.2,544.6 22.2,544.6 21.2,544.7 20.2,544.7 19.2,544.7 18.2,544.7 17.2,544.7 16.2,544.7 15.2,544.8 14.2,544.8 13.2,544.8 12.2,544.8 11.2,544.8 10.2,544.8 9.2,544.9 8.2,544.9 7.2,544.9 6.2,544.9 5.2,544.9 4.2,544.9 3.2,545.0 2.2,545.0 1.2,545.0" fill="#f6c6c6"/>
<polygon points="228.9,570.1 229.2,570.0 230.2,569.8 231.2,569.7 232.2,569.5 233.2,569.4 234.2,569.2 235.2,569.1 236.2,568.8 237.2,568.5 238.2,568.2 239.2,567.8 240.2,567.5 241.2,567.2 242.2,566.8 243.2,566.5 244.2,566.3 245.2,566.1 246.2,565.9 247.2,565.7 248.2,565.5 249.2,565.3 250.2,565.1 251.2,564.9 252.2,564.7 253.2,564.5 254.2,564.4 255.2,564.3 256.2,564.3 257.2,564.2 258.2,564.1 259.2,564.0 260.2,563.9 261.2,563.8 262.2,563.7 263.2,563.5 264.2,563.4 265.2,563.2 266.2,563.1 267.2,562.9 268.2,562.7 269.2,562.6 270.2,562.4 271.2,562.3 272.2,562.2 273.2,562.3 274.2,562.4 275.2,562.5 276.2,562.6 277.2,562.7 278.2,562.8 279.2,562.8 280.2,562.9 281.2,563.0 282.2,563.1 283.2,563.1 284.2,563.2 285.2,563.3 286.2,563.4 287.2,563.4 288.2,563.5 289.2,563.6 290.2,563.7 291.0,563.7 291.0,563.7 290.2,563.7 289.2,563.8 288.2,563.8 287.2,563.9 286.2,563.9 285.2,564.0 284.2,564.0 283.2,564.1 282.2,564.1 281.2,564.2 280.2,564.3 279.2,564.5 278.2,564.6 277.2,564.7 276.2,564.8 275.2,565.0 274.2,565.1 273.2,565.2 272.2,565.3 271.2,565.5 270.2,565.6 269.2,565.8 268.2,566.0 267.2,566.1 266.2,566.3 265.2,566.5 264.2,566.6 263.2,566.8 262.2,567.0 261.2,567.1 260.2,567.2 259.2,567.2 258.2,567.3 257.2,567.4 256.2,567.5 255.2,567.6 254.2,567.7 253.2,567.7 252.2,567.8 251.2,567.9 250.2,568.0 249.2,568.0 248.2,568.1 247.2,568.2 246.2,568.3 245.2,568.3 244.2,568.4 243.2,568.5 242.2,568.6 241.2,568.7 240.2,568.8 239.2,569.0 238.2,569.1 237.2,569.2 236.2,569.3 235.2,569.4 234.2,569.5 233.2,569.6 232.2,569.7 231.2,569.8 230.2,569.9 229.2,570.0 228.9,570.1" fill="#c4f0c4"/>
<polygon points="291.0,563.7 291.2,563.7 292.2,563.8 293.2,563.9 294.2,564.0 295.2,564.1 296.2,564.2 297.2,564.3 298.2,564.4 299.2,564.5 300.2,564.6 301.2,564.7 302.2,564.9 303.2,565.0 304.2,565.2 305.2,565.4 306.2,565.5 307.2,565.7 308.2,565.8 309.2,566.0 310.2,566.1 311.2,566.2 312.2,566.2 313.2,566.3 314.2,566.3 315.2,566.4 316.2,566.4 317.2,566.5 318.2,566.5 319.2,566.6 320.2,566.8 321.2,567.1 322.2,567.5 323.2,567.8 324.2,568.2 325.2,568.5 326.2,568.8 327.2,568.9 328.2,568.7 329.2,568.5 330.2,568.3 331.2,568.1 332.2,567.9 333.2,567.9 334.2,568.2 335.2,568.5 336.2,568.7 337.2,569.0 338.2,569.3 339.2,569.5 340.2,569.6 341.2,569.8 342.2,569.9 343.2,570.1 344.2,570.3 345.2,570.4 346.2,570.6 347.2,570.7 348.2,570.9 349.2,571.2 350.2,571.6 351.2,572.0 352.2,572.4 353.2,572.8 354.2,573.2 355.2,573.6 356.2,574.3 357.2,575.1 358.2,576.0 359.2,576.8 360.2,577.6 361.2,578.5 362.2,579.3 363.2,580.0 364.2,580.5 365.2,581.0 366.2,581.5 367.2,582.0 368.2,582.4 369.2,582.9 370.2,583.4 371.2,583.5 372.2,583.7 373.2,583.9 374.2,584.0 375.2,584.2 376.2,584.4 377.2,584.6 378.2,584.9 379.2,585.2 380.2,585.5 381.2,585.9 382.2,586.2 383.2,586.5 384.2,586.8 385.2,587.1 386.2,587.5 387.2,587.6 388.2,587.6 389.2,587.6 390.2,587.7 391.2,588.3 392.2,588.9 393.2,589.4 394.2,590.0 395.2,590.6 396.2,591.1 397.2,591.7 398.2,592.3 399.2,592.9 400.2,593.5 401.2,594.1 402.2,594.7 403.2,595.3 404.2,595.4 405.2,595.5 406.2,595.6 407.2,595.7 408.2,595.8 409.2,595.9 410.2,596.0 411.2,595.7 412.2,595.3 413.2,594.9 414.2,594.5 415.2,594.0 416.2,593.6 417.2,593.3 418.2,592.9 419.2,592.6 420.2,592.2 421.2,591.8 422.2,591.5 423.2,591.1 424.2,590.9 425.2,590.8 426.2,590.7 427.2,590.6 428.2,590.4 429.2,590.3 430.2,590.2 431.2,590.1 432.2,589.9 432.7,589.8 432.7,589.8 432.2,589.8 431.2,589.9 430.2,589.9 429.2,590.0 428.2,590.0 427.2,590.0 426.2,590.0 425.2,590.0 424.2,590.0 423.2,590.0 422.2,590.0 421.2,590.0 420.2,590.0 419.2,590.0 418.2,589.9 417.2,589.7 416.2,589.5 415.2,589.3 414.2,589.1 413.2,588.9 412.2,588.7 411.2,588.5 410.2,588.3 409.2,588.1 408.2,587.7 407.2,587.4 406.2,587.0 405.2,586.6 404.2,586.2 403.2,585.9 402.2,585.5 401.2,585.1 400.2,584.7 399.2,584.4 398.2,584.0 397.2,583.6 396.2,583.2 395.2,582.9 394.2,582.5 393.2,582.1 392.2,581.7 391.2,581.4 390.2,581.0 389.2,580.9 388.2,580.9 387.2,580.9 386.2,580.8 385.2,580.4 384.2,580.0 383.2,579.6 382.2,579.2 381.2,578.9 380.2,578.5 379.2,578.1 378.2,577.8 377.2,577.4 376.2,577.0 375.2,576.7 374.2,576.4 373.2,576.0 372.2,575.7 371.2,575.3 370.2,575.0 369.2,574.7 368.2,574.3 367.2,574.0 366.2,573.7 365.2,573.3 364.2,573.0 363.2,572.7 362.2,572.3 361.2,572.0 360.2,571.7 359.2,571.3 358.2,571.0 357.2,570.7 356.2,570.3 355.2,570.1 354.2,569.9 353.2,569.7 352.2,569.6 351.2,569.4 350.2,569.3 349.2,569.1 348.2,569.0 347.2,568.9 346.2,568.9 345.2,568.8 344.2,568.8 343.2,568.7 342.2,568.7 341.2,568.6 340.2,568.6 339.2,568.5 338.2,568.4 337.2,568.3 336.2,568.1 335.2,568.0 334.2,567.8 333.2,567.6 332.2,567.5 331.2,567.3 330.2,567.2 329.2,567.0 328.2,566.9 327.2,566.8 326.2,566.7 325.2,566.6 324.2,566.5 323.2,566.4 322.2,566.3 321.2,566.3 320.2,566.2 319.2,566.1 318.2,565.9 317.2,565.8 316.2,565.7 315.2,565.5 314.2,565.4 313.2,565.3 312.2,565.2 311.2,565.0 310.2,564.9 309.2,564.8 308.2,564.8 307.2,564.7 306.2,564.6 305.2,564.5 304.2,564.5 303.2,564.4 302.2,564.3 301.2,564.3 300.2,564.2 299.2,564.1 298.2,564.1 297.2,564.0 296.2,564.0 295.2,563.9 294.2,563.9 293.2,563.8 292.2,563.8 291.2,563.7 291.0,563.7" fill="#f6c6c6"/>
<polygon points="432.7,589.8 433.2,589.7 434.2,589.5 435.2,589.3 436.2,589.0 437.2,588.8 438.2,588.6 439.2,588.3 440.2,588.1 441.2,587.9 442.2,587.8 443.2,587.6 444.2,587.4 445.2,587.2 446.2,587.1 447.2,586.9 448.2,586.7 449.2,586.5 450.2,586.4 451.2,586.4 452.2,586.4 453.2,586.4 454.2,586.4 455.2,586.4 456.2,586.4 457.2,586.4 458.2,586.4 459.2,586.4 460.2,586.2 461.2,585.9 462.2,585.7 463.2,585.4 464.2,585.1 465.2,584.8 466.2,584.6 467.2,584.3 468.2,584.0 469.2,583.8 470.2,583.6 471.2,583.4 472.2,583.2 473.2,583.1 474.2,582.9 475.2,582.7 476.2,582.5 477.2,582.3 478.2,582.2 479.2,582.1 480.2,582.0 481.2,581.9 482.2,581.8 483.2,581.8 484.2,581.7 485.2,581.6 486.2,581.5 487.2,581.5 488.2,581.4 489.2,581.4 490.2,581.4 491.2,581.4 492.2,581.4 493.2,581.4 494.2,581.4 495.2,581.4 496.2,581.3 497.2,581.1 498.2,580.9 499.2,580.8 500.2,580.6 501.2,580.4 502.2,580.3 503.2,580.4 504.2,580.7 505.2,581.0 506.2,581.2 507.2,581.5 508.2,581.5 509.2,581.4 510.2,581.2 511.2,581.1 512.2,581.0 513.2,580.9 514.2,580.7 515.2,580.6 516.2,580.5 517.2,580.4 518.2,580.3 519.2,580.1 520.2,580.0 521.2,579.9 522.2,579.8 523.2,579.7 524.2,579.6 525.2,579.4 526.2,579.3 527.2,579.1 528.2,578.7 529.2,578.4 530.2,578.1 531.2,577.7 532.2,577.4 533.2,577.1 534.2,576.8 535.2,576.5 536.2,576.2 537.2,575.9 538.2,575.6 539.2,575.4 540.2,575.1 541.2,574.8 542.2,574.3 543.2,573.9 544.2,573.5 545.2,573.0 546.2,572.6 547.2,572.2 548.2,571.8 549.2,571.7 550.2,571.6 551.2,571.5 552.2,571.5 553.2,571.4 554.2,571.3 555.2,570.9 556.2,570.5 557.2,570.1 558.2,569.7 559.2,569.3 560.2,569.0 561.2,568.6 562.2,568.3 563.2,568.0 564.2,567.6 565.2,567.3 566.2,566.9 567.2,566.6 568.2,566.4 569.2,566.3 570.2,566.1 571.2,565.9 572.2,565.8 573.2,565.6 574.2,565.4 575.2,565.4 576.2,565.4 577.2,565.4 578.2,565.4 579.2,565.4 580.2,565.4 581.2,565.4 582.2,565.4 583.2,565.4 584.2,565.4 585.2,565.4 586.2,565.4 587.2,565.4 588.2,565.4 589.2,565.4 590.2,565.4 591.2,565.4 592.2,565.4 593.2,565.4 594.2,565.4 595.2,565.4 596.2,565.4 597.2,565.4 598.2,565.4 599.2,565.4 600.2,565.4 601.2,565.4 602.2,565.4 603.2,565.4 604.2,565.4 605.2,565.4 606.2,565.4 607.2,565.4 608.2,565.4 609.2,565.5 610.2,565.7 611.2,566.0 612.2,566.3 613.2,566.5 614.2,566.8 615.2,567.1 616.2,567.3 617.2,567.4 618.2,567.5 619.2,567.6 620.2,567.7 621.2,567.8 621.7,567.8 621.7,567.8 621.2,567.8 620.2,567.8 619.2,567.7 618.2,567.6 617.2,567.6 616.2,567.5 615.2,567.4 614.2,567.3 613.2,567.3 612.2,567.2 611.2,567.1 610.2,567.1 609.2,567.0 608.2,567.0 607.2,567.1 606.2,567.2 605.2,567.2 604.2,567.3 603.2,567.3 602.2,567.4 601.2,567.4 600.2,567.5 599.2,567.5 598.2,567.6 597.2,567.7 596.2,567.7 595.2,567.8 594.2,567.8 593.2,567.9 592.2,568.0 591.2,568.1 590.2,568.2 589.2,568.3 588.2,568.4 587.2,568.5 586.2,568.6 585.2,568.7 584.2,568.8 583.2,568.9 582.2,568.9 581.2,569.1 580.2,569.3 579.2,569.5 578.2,569.7 577.2,569.9 576.2,570.1 575.2,570.3 574.2,570.5 573.2,570.7 572.2,570.9 571.2,571.1 570.2,571.4 569.2,571.7 568.2,572.0 567.2,572.3 566.2,572.6 565.2,572.9 564.2,573.2 563.2,573.5 562.2,573.8 561.2,574.0 560.2,574.3 559.2,574.5 558.2,574.8 557.2,575.0 556.2,575.3 555.2,575.5 554.2,575.8 553.2,576.0 552.2,576.2 551.2,576.4 550.2,576.6 549.2,576.8 548.2,576.9 547.2,577.1 546.2,577.3 545.2,577.5 544.2,577.6 543.2,577.8 542.2,578.0 541.2,578.1 540.2,578.3 539.2,578.4 538.2,578.6 537.2,578.8 536.2,578.9 535.2,579.1 534.2,579.2 533.2,579.4 532.2,579.5 531.2,579.7 530.2,579.9 529.2,580.0 528.2,580.2 527.2,580.4 526.2,580.5 525.2,580.7 524.2,580.9 523.2,581.0 522.2,581.0 521.2,581.1 520.2,581.2 519.2,581.3 518.2,581.3 517.2,581.4 516.2,581.5 515.2,581.6 514.2,581.6 513.2,581.7 512.2,581.9 511.2,582.0 510.2,582.1 509.2,582.2 508.2,582.3 507.2,582.4 506.2,582.5 505.2,582.6 504.2,582.7 503.2,582.7 502.2,582.8 501.2,582.9 500.2,583.0 499.2,583.0 498.2,583.1 497.2,583.2 496.2,583.2 495.2,583.3 494.2,583.4 493.2,583.6 492.2,583.7 491.2,583.8 490.2,583.9 489.2,584.1 488.2,584.2 487.2,584.3 486.2,584.5 485.2,584.6 484.2,584.7 483.2,584.8 482.2,585.0 481.2,585.1 480.2,585.2 479.2,585.3 478.2,585.5 477.2,585.6 476.2,585.7 475.2,585.9 474.2,586.1 473.2,586.2 472.2,586.4 471.2,586.6 470.2,586.8 469.2,586.9 468.2,587.1 467.2,587.3 466.2,587.5 465.2,587.6 464.2,587.7 463.2,587.8 462.2,588.0 461.2,588.1 460.2,588.2 459.2,588.3 458.2,588.5 457.2,588.6 456.2,588.6 455.2,588.7 454.2,588.8 453.2,588.8 452.2,588.9 451.2,588.9 450.2,589.0 449.2,589.0 448.2,589.1 447.2,589.1 446.2,589.2 445.2,589.2 444.2,589.3 443.2,589.3 442.2,589.4 441.2,589.4 440.2,589.5 439.2,589.5 438.2,589.6 437.2,589.6 436.2,589.7 435.2,589.7 434.2,589.8 433.2,589.8 432.7,589.8" fill="#c4f0c4"/>
<polygon points="621.7,567.8 622.2,567.9 623.2,568.0 624.2,568.1 625.2,568.2 626.2,568.2 627.2,568.2 628.2,568.2 629.2,568.2 630.2,568.2 631.2,568.2 632.2,568.2 633.2,568.2 634.2,568.2 635.2,568.2 636.2,568.2 637.2,568.2 638.2,568.2 639.2,568.2 640.2,568.2 641.2,568.2 642.2,568.2 643.2,568.2 644.2,568.2 645.2,568.2 646.2,568.2 647.2,568.2 648.2,568.2 649.2,568.2 650.2,568.3 651.2,568.4 652.2,568.5 653.2,568.6 654.2,568.7 655.2,568.8 656.2,568.9 657.2,569.0 658.2,569.1 659.2,569.2 660.2,569.3 661.2,569.4 662.2,569.4 663.2,569.4 664.2,569.4 665.2,569.4 666.2,569.4 667.2,569.4 668.2,569.4 669.2,569.4 670.2,569.4 671.2,569.4 672.2,569.4 673.2,569.4 674.2,569.4 675.2,569.4 676.2,569.4 677.2,569.3 678.2,569.2 679.2,569.1 680.2,569.0 680.3,569.0 680.3,569.0 680.2,569.0 679.2,569.0 678.2,569.0 677.2,569.0 676.2,569.0 675.2,569.0 674.2,569.0 673.2,569.0 672.2,569.0 671.2,569.0 670.2,569.0 669.2,569.0 668.2,569.0 667.2,569.0 666.2,569.0 665.2,569.0 664.2,569.0 663.2,569.0 662.2,569.0 661.2,569.0 660.2,568.9 659.2,568.8 658.2,568.8 657.2,568.7 656.2,568.6 655.2,568.6 654.2,568.5 653.2,568.4 652.2,568.4 651.2,568.3 650.2,568.2 649.2,568.2 648.2,568.2 647.2,568.2 646.2,568.2 645.2,568.2 644.2,568.2 643.2,568.2 642.2,568.2 641.2,568.2 640.2,568.2 639.2,568.2 638.2,568.2 637.2,568.2 636.2,568.2 635.2,568.2 634.2,568.2 633.2,568.2 632.2,568.2 631.2,568.1 630.2,568.1 629.2,568.1 628.2,568.0 627.2,568.0 626.2,568.0 625.2,567.9 624.2,567.9 623.2,567.9 622.2,567.8 621.7,567.8" fill="#f6c6c6"/>
<polygon points="680.3,569.0 681.2,568.9 682.2,568.8 683.2,568.7 684.2,568.6 685.2,568.5 686.2,568.4 687.2,568.3 688.2,568.2 689.2,568.0 690.2,567.9 691.2,567.8 692.2,567.7 693.2,567.5 694.2,567.4 695.2,567.3 696.2,567.2 697.2,567.2 698.2,567.1 699.2,567.0 700.2,566.9 701.2,566.9 702.2,566.8 703.2,566.7 704.2,566.6 705.2,566.6 706.2,566.6 707.2,566.6 708.2,566.6 709.2,566.6 710.2,566.6 711.2,566.6 712.2,566.6 713.2,566.6 714.2,566.6 715.2,566.6 716.2,566.6 717.2,566.6 718.2,566.5 719.2,566.5 720.2,566.5 721.2,566.4 722.2,566.4 723.2,566.3 724.2,566.3 725.2,566.2 726.2,566.2 727.2,566.2 728.2,566.1 729.2,566.1 730.2,566.0 731.2,565.9 732.2,565.8 733.2,565.8 734.2,565.7 735.2,565.6 736.2,565.6 737.2,565.5 738.2,565.4 739.2,565.3 740.2,565.2 741.2,565.1 742.2,565.0 743.2,564.9 744.2,564.7 745.2,564.6 746.2,564.5 747.2,564.4 748.2,564.3 749.2,564.2 750.2,564.4 751.2,564.6 752.2,564.8 753.2,565.0 754.2,565.2 755.2,565.4 756.2,565.3 757.2,565.3 758.2,565.2 759.2,565.1 760.2,565.0 761.2,565.0 762.2,564.9 763.2,564.7 764.2,564.6 765.2,564.4 766.2,564.3 766.6,564.2 766.6,565.4 766.2,565.4 765.2,565.5 764.2,565.5 763.2,565.5 762.2,565.6 761.2,565.6 760.2,565.7 759.2,565.7 758.2,565.7 757.2,565.8 756.2,565.8 755.2,565.9 754.2,565.9 753.2,565.9 752.2,566.0 751.2,566.0 750.2,566.1 749.2,566.1 748.2,566.1 747.2,566.2 746.2,566.2 745.2,566.3 744.2,566.3 743.2,566.4 742.2,566.4 741.2,566.5 740.2,566.5 739.2,566.6 738.2,566.6 737.2,566.6 736.2,566.7 735.2,566.7 734.2,566.8 733.2,566.8 732.2,566.9 731.2,566.9 730.2,566.9 729.2,567.0 728.2,567.0 727.2,567.1 726.2,567.2 725.2,567.2 724.2,567.3 723.2,567.4 722.2,567.4 721.2,567.5 720.2,567.6 719.2,567.6 718.2,567.7 717.2,567.8 716.2,567.8 715.2,567.8 714.2,567.8 713.2,567.9 712.2,567.9 711.2,567.9 710.2,567.9 709.2,567.9 708.2,567.9 707.2,568.0 706.2,568.0 705.2,568.0 704.2,568.0 703.2,568.1 702.2,568.1 701.2,568.2 700.2,568.2 699.2,568.3 698.2,568.3 697.2,568.4 696.2,568.4 695.2,568.5 694.2,568.6 693.2,568.6 692.2,568.7 691.2,568.7 690.2,568.8 689.2,568.8 688.2,568.9 687.2,568.9 686.2,569.0 685.2,569.0 684.2,569.0 683.2,569.0 682.2,569.0 681.2,569.0 680.3,569.0" fill="#c4f0c4"/>
<rect x="1" y="562" width="784" height="1" fill="#2020d0" shape-rendering="crispEdges"/>
<polyline points="1.2,545.0 60.0,544.0 120.0,545.0 140.0,549.0 149.7,552.8 162.9,556.4 177.2,560.0 189.2,562.8 195.0,564.2 202.2,566.6 210.6,569.0 219.0,570.1 228.5,570.1 235.7,569.4 242.9,568.5 252.5,567.8 262.1,567.0 271.6,565.4 281.2,564.2 290.8,563.7 300.4,564.2 310.0,564.9 319.6,566.1 329.1,567.0 338.7,568.5 348.3,569.0 355.5,570.1 362.7,572.5 369.9,574.9 377.0,577.3 386.6,580.9 390.0,580.9 399.6,584.5 409.2,588.1 418.7,590.0 428.3,590.0 437.9,589.6 447.5,589.1 457.1,588.6 466.6,587.4 476.2,585.7 485.8,584.5 495.4,583.3 505.0,582.6 514.6,581.6 524.1,580.9 533.7,579.3 543.3,577.8 552.9,576.1 562.5,573.7 572.0,570.9 581.6,569.0 594.6,567.8 609.0,567.0 620.9,567.8 632.9,568.2 649.7,568.2 661.6,569.0 676.0,569.0 685.6,569.0 695.2,568.5 704.8,568.0 716.7,567.8 728.7,567.0 738.3,566.6 749.1,566.1 766.6,565.4" fill="none" stroke="#e06464" stroke-width="2.2" stroke-linejoin="round" stroke-linecap="round"/>
<polyline points="1.2,549.0 15.0,551.5 19.0,552.6 41.0,552.6 46.0,551.0 52.0,551.0 55.0,552.6 89.0,552.6 95.0,550.0 110.0,546.0 125.0,548.0 137.7,552.8 146.1,558.8 155.7,561.1 167.7,564.3 179.6,566.7 191.6,569.5 195.0,570.1 202.2,571.8 210.6,574.9 219.0,573.3 228.5,570.1 235.7,569.0 242.9,566.6 252.5,564.6 262.1,563.7 271.6,562.2 281.2,563.0 290.8,563.7 300.4,564.6 310.0,566.1 319.6,566.6 326.7,569.0 332.7,567.8 338.7,569.4 348.3,570.9 355.5,573.7 362.7,579.7 369.9,583.3 377.0,584.5 386.6,587.6 390.0,587.6 397.2,591.7 403.2,595.3 410.4,596.0 416.3,593.6 423.5,591.0 431.9,590.0 440.3,588.1 449.9,586.4 459.5,586.4 469.0,583.8 478.6,582.1 488.2,581.4 495.4,581.4 502.6,580.2 507.4,581.6 516.9,580.4 526.5,579.3 533.7,576.9 540.9,574.9 548.1,571.8 554.1,571.3 560.1,569.0 567.2,566.6 574.4,565.4 581.6,565.4 597.0,565.4 609.0,565.4 616.1,567.3 625.7,568.2 637.7,568.2 649.7,568.2 661.6,569.4 676.0,569.4 685.6,568.5 695.2,567.3 704.8,566.6 716.7,566.6 728.7,566.1 738.3,565.4 749.1,564.2 755.1,565.4 762.2,564.9 766.6,564.2" fill="none" stroke="#2828dc" stroke-width="2.4" stroke-linejoin="round" stroke-linecap="round"/>
</g>
<g shape-rendering="crispEdges">
<rect x="1" y="539" width="78" height="14" fill="url(#tab)"/>
<rect x="78" y="539" width="1" height="14" fill="#9fb1bc"/>
<rect x="1" y="552" width="78" height="1" fill="#9fb1bc"/>
</g>
<text x="3" y="548.6" font-size="11" fill="#44cc44" font-weight="bold" stroke="#44cc44" stroke-width="0.3" text-anchor="start" textLength="72.5" lengthAdjust="spacingAndGlyphs">MACD-, señal</text>
<g shape-rendering="crispEdges">
<rect x="79" y="539" width="34" height="14" fill="url(#tab)"/>
<rect x="112" y="539" width="1" height="14" fill="#9fb1bc"/>
<rect x="79" y="552" width="34" height="1" fill="#9fb1bc"/>
</g>
<text x="81" y="548.6" font-size="11" fill="#e06060" font-weight="bold" stroke="#e06060" stroke-width="0.3" text-anchor="start" textLength="29.2" lengthAdjust="spacingAndGlyphs">Señal</text>
<g shape-rendering="crispEdges">
<rect x="113" y="539" width="87" height="14" fill="url(#tab)"/>
<rect x="199" y="539" width="1" height="14" fill="#9fb1bc"/>
<rect x="113" y="552" width="87" height="1" fill="#9fb1bc"/>
</g>
<text x="116.2" y="548.6" font-size="11" fill="#1e28d2" font-weight="bold" stroke="#1e28d2" stroke-width="0.3" text-anchor="start" textLength="81.4" lengthAdjust="spacingAndGlyphs">MACD ( 12 26 9)</text>
<g shape-rendering="crispEdges">
<rect x="786" y="23" width="2" height="1" fill="#9fb1bc"/>
<rect x="786" y="31" width="4" height="1" fill="#9fb1bc"/>
<rect x="786" y="39" width="2" height="1" fill="#9fb1bc"/>
<rect x="786" y="46" width="4" height="1" fill="#9fb1bc"/>
<rect x="786" y="54" width="2" height="1" fill="#9fb1bc"/>
<rect x="786" y="62" width="4" height="1" fill="#9fb1bc"/>
<rect x="786" y="70" width="2" height="1" fill="#9fb1bc"/>
<rect x="786" y="77" width="4" height="1" fill="#9fb1bc"/>
<rect x="786" y="85" width="2" height="1" fill="#9fb1bc"/>
<rect x="786" y="93" width="4" height="1" fill="#9fb1bc"/>
<rect x="786" y="100" width="2" height="1" fill="#9fb1bc"/>
<rect x="786" y="108" width="4" height="1" fill="#9fb1bc"/>
<rect x="786" y="116" width="2" height="1" fill="#9fb1bc"/>
<rect x="786" y="124" width="4" height="1" fill="#9fb1bc"/>
<rect x="786" y="131" width="2" height="1" fill="#9fb1bc"/>
<rect x="786" y="139" width="4" height="1" fill="#9fb1bc"/>
<rect x="786" y="147" width="2" height="1" fill="#9fb1bc"/>
<rect x="786" y="155" width="4" height="1" fill="#9fb1bc"/>
<rect x="786" y="162" width="2" height="1" fill="#9fb1bc"/>
<rect x="786" y="170" width="4" height="1" fill="#9fb1bc"/>
<rect x="786" y="178" width="2" height="1" fill="#9fb1bc"/>
<rect x="786" y="186" width="4" height="1" fill="#9fb1bc"/>
<rect x="786" y="193" width="2" height="1" fill="#9fb1bc"/>
<rect x="786" y="201" width="4" height="1" fill="#9fb1bc"/>
<rect x="786" y="209" width="2" height="1" fill="#9fb1bc"/>
<rect x="786" y="217" width="4" height="1" fill="#9fb1bc"/>
<rect x="786" y="224" width="2" height="1" fill="#9fb1bc"/>
<rect x="786" y="232" width="4" height="1" fill="#9fb1bc"/>
<rect x="786" y="240" width="2" height="1" fill="#9fb1bc"/>
<rect x="786" y="248" width="4" height="1" fill="#9fb1bc"/>
<rect x="786" y="255" width="2" height="1" fill="#9fb1bc"/>
<rect x="786" y="263" width="4" height="1" fill="#9fb1bc"/>
<rect x="786" y="271" width="2" height="1" fill="#9fb1bc"/>
<rect x="786" y="278" width="4" height="1" fill="#9fb1bc"/>
<rect x="786" y="286" width="2" height="1" fill="#9fb1bc"/>
<rect x="786" y="294" width="4" height="1" fill="#9fb1bc"/>
<rect x="786" y="302" width="2" height="1" fill="#9fb1bc"/>
<rect x="786" y="309" width="4" height="1" fill="#9fb1bc"/>
<rect x="786" y="317" width="2" height="1" fill="#9fb1bc"/>
<rect x="786" y="325" width="4" height="1" fill="#9fb1bc"/>
<rect x="786" y="333" width="2" height="1" fill="#9fb1bc"/>
<rect x="786" y="340" width="4" height="1" fill="#9fb1bc"/>
<rect x="786" y="348" width="2" height="1" fill="#9fb1bc"/>
<rect x="786" y="356" width="4" height="1" fill="#9fb1bc"/>
<rect x="786" y="364" width="2" height="1" fill="#9fb1bc"/>
<rect x="786" y="371" width="4" height="1" fill="#9fb1bc"/>
<rect x="786" y="379" width="2" height="1" fill="#9fb1bc"/>
<rect x="786" y="387" width="4" height="1" fill="#9fb1bc"/>
<rect x="786" y="395" width="2" height="1" fill="#9fb1bc"/>
</g>
<text x="792" y="391.1" font-size="11" fill="#000" font-weight="bold" stroke="#000" stroke-width="0.3" text-anchor="start" textLength="20.7" lengthAdjust="spacingAndGlyphs">0,38</text>
<text x="792" y="375.1" font-size="11" fill="#000" font-weight="bold" stroke="#000" stroke-width="0.3" text-anchor="start" textLength="14.6" lengthAdjust="spacingAndGlyphs">0,4</text>
<text x="792" y="360.1" font-size="11" fill="#000" font-weight="bold" stroke="#000" stroke-width="0.3" text-anchor="start" textLength="20.7" lengthAdjust="spacingAndGlyphs">0,42</text>
<text x="792" y="344.1" font-size="11" fill="#000" font-weight="bold" stroke="#000" stroke-width="0.3" text-anchor="start" textLength="20.7" lengthAdjust="spacingAndGlyphs">0,44</text>
<text x="792" y="329.1" font-size="11" fill="#000" font-weight="bold" stroke="#000" stroke-width="0.3" text-anchor="start" textLength="20.7" lengthAdjust="spacingAndGlyphs">0,46</text>
<text x="792" y="313.1" font-size="11" fill="#000" font-weight="bold" stroke="#000" stroke-width="0.3" text-anchor="start" textLength="20.7" lengthAdjust="spacingAndGlyphs">0,48</text>
<text x="792" y="298.1" font-size="11" fill="#000" font-weight="bold" stroke="#000" stroke-width="0.3" text-anchor="start" textLength="14.6" lengthAdjust="spacingAndGlyphs">0,5</text>
<text x="792" y="282.1" font-size="11" fill="#000" font-weight="bold" stroke="#000" stroke-width="0.3" text-anchor="start" textLength="20.7" lengthAdjust="spacingAndGlyphs">0,52</text>
<text x="792" y="267.1" font-size="11" fill="#000" font-weight="bold" stroke="#000" stroke-width="0.3" text-anchor="start" textLength="20.7" lengthAdjust="spacingAndGlyphs">0,54</text>
<text x="792" y="252.1" font-size="11" fill="#000" font-weight="bold" stroke="#000" stroke-width="0.3" text-anchor="start" textLength="20.7" lengthAdjust="spacingAndGlyphs">0,56</text>
<text x="792" y="236.1" font-size="11" fill="#000" font-weight="bold" stroke="#000" stroke-width="0.3" text-anchor="start" textLength="20.7" lengthAdjust="spacingAndGlyphs">0,58</text>
<text x="792" y="221.1" font-size="11" fill="#000" font-weight="bold" stroke="#000" stroke-width="0.3" text-anchor="start" textLength="14.6" lengthAdjust="spacingAndGlyphs">0,6</text>
<text x="792" y="205.1" font-size="11" fill="#000" font-weight="bold" stroke="#000" stroke-width="0.3" text-anchor="start" textLength="20.7" lengthAdjust="spacingAndGlyphs">0,62</text>
<text x="792" y="190.1" font-size="11" fill="#000" font-weight="bold" stroke="#000" stroke-width="0.3" text-anchor="start" textLength="20.7" lengthAdjust="spacingAndGlyphs">0,64</text>
<text x="792" y="174.1" font-size="11" fill="#000" font-weight="bold" stroke="#000" stroke-width="0.3" text-anchor="start" textLength="20.7" lengthAdjust="spacingAndGlyphs">0,66</text>
<text x="792" y="159.1" font-size="11" fill="#000" font-weight="bold" stroke="#000" stroke-width="0.3" text-anchor="start" textLength="20.7" lengthAdjust="spacingAndGlyphs">0,68</text>
<text x="792" y="143.1" font-size="11" fill="#000" font-weight="bold" stroke="#000" stroke-width="0.3" text-anchor="start" textLength="14.6" lengthAdjust="spacingAndGlyphs">0,7</text>
<text x="792" y="128.1" font-size="11" fill="#000" font-weight="bold" stroke="#000" stroke-width="0.3" text-anchor="start" textLength="20.7" lengthAdjust="spacingAndGlyphs">0,72</text>
<text x="792" y="112.1" font-size="11" fill="#000" font-weight="bold" stroke="#000" stroke-width="0.3" text-anchor="start" textLength="20.7" lengthAdjust="spacingAndGlyphs">0,74</text>
<text x="792" y="97.1" font-size="11" fill="#000" font-weight="bold" stroke="#000" stroke-width="0.3" text-anchor="start" textLength="20.7" lengthAdjust="spacingAndGlyphs">0,76</text>
<text x="792" y="81.1" font-size="11" fill="#000" font-weight="bold" stroke="#000" stroke-width="0.3" text-anchor="start" textLength="20.7" lengthAdjust="spacingAndGlyphs">0,78</text>
<text x="792" y="66.1" font-size="11" fill="#000" font-weight="bold" stroke="#000" stroke-width="0.3" text-anchor="start" textLength="14.6" lengthAdjust="spacingAndGlyphs">0,8</text>
<text x="792" y="50.1" font-size="11" fill="#000" font-weight="bold" stroke="#000" stroke-width="0.3" text-anchor="start" textLength="20.7" lengthAdjust="spacingAndGlyphs">0,82</text>
<text x="792" y="35.1" font-size="11" fill="#000" font-weight="bold" stroke="#000" stroke-width="0.3" text-anchor="start" textLength="20.7" lengthAdjust="spacingAndGlyphs">0,84</text>
<g shape-rendering="crispEdges">
<rect x="11" y="600" width="1" height="4" fill="#9fb1bc"/>
<rect x="40" y="600" width="1" height="4" fill="#9fb1bc"/>
<rect x="69" y="600" width="1" height="4" fill="#9fb1bc"/>
<rect x="99" y="600" width="1" height="4" fill="#9fb1bc"/>
<rect x="139" y="600" width="1" height="4" fill="#9fb1bc"/>
<rect x="186" y="600" width="1" height="4" fill="#9fb1bc"/>
<rect x="216" y="600" width="1" height="4" fill="#9fb1bc"/>
<rect x="245" y="600" width="1" height="4" fill="#9fb1bc"/>
<rect x="274" y="600" width="1" height="4" fill="#9fb1bc"/>
<rect x="303" y="600" width="1" height="4" fill="#9fb1bc"/>
<rect x="333" y="600" width="1" height="4" fill="#9fb1bc"/>
<rect x="374" y="600" width="1" height="4" fill="#9fb1bc"/>
<rect x="420" y="600" width="1" height="4" fill="#9fb1bc"/>
<rect x="450" y="600" width="1" height="4" fill="#9fb1bc"/>
<rect x="479" y="600" width="1" height="4" fill="#9fb1bc"/>
<rect x="502" y="600" width="1" height="4" fill="#9fb1bc"/>
<rect x="537" y="600" width="1" height="4" fill="#9fb1bc"/>
<rect x="567" y="600" width="1" height="4" fill="#9fb1bc"/>
<rect x="596" y="600" width="1" height="4" fill="#9fb1bc"/>
<rect x="625" y="600" width="1" height="4" fill="#9fb1bc"/>
<rect x="655" y="600" width="1" height="4" fill="#9fb1bc"/>
<rect x="684" y="600" width="1" height="4" fill="#9fb1bc"/>
<rect x="713" y="600" width="1" height="4" fill="#9fb1bc"/>
<rect x="760" y="600" width="1" height="4" fill="#9fb1bc"/>
</g>
<text x="10.7" y="615.6" font-size="11" fill="#000" font-weight="bold" stroke="#000" stroke-width="0.3" text-anchor="middle">02</text>
<text x="39.7" y="615.6" font-size="11" fill="#000" font-weight="bold" stroke="#000" stroke-width="0.3" text-anchor="middle">09</text>
<text x="68.7" y="615.6" font-size="11" fill="#000" font-weight="bold" stroke="#000" stroke-width="0.3" text-anchor="middle">16</text>
<text x="98.7" y="615.6" font-size="11" fill="#000" font-weight="bold" stroke="#000" stroke-width="0.3" text-anchor="middle">23</text>
<text x="139.5" y="615.6" font-size="12" fill="#000" font-weight="bold" stroke="#000" stroke-width="0.3" text-anchor="middle">abr</text>
<text x="185.7" y="615.6" font-size="11" fill="#000" font-weight="bold" stroke="#000" stroke-width="0.3" text-anchor="middle">13</text>
<text x="215.7" y="615.6" font-size="11" fill="#000" font-weight="bold" stroke="#000" stroke-width="0.3" text-anchor="middle">24</text>
<text x="245.5" y="615.6" font-size="12" fill="#000" font-weight="bold" stroke="#000" stroke-width="0.3" text-anchor="middle">may</text>
<text x="273.7" y="615.6" font-size="11" fill="#000" font-weight="bold" stroke="#000" stroke-width="0.3" text-anchor="middle">09</text>
<text x="302.7" y="615.6" font-size="11" fill="#000" font-weight="bold" stroke="#000" stroke-width="0.3" text-anchor="middle">16</text>
<text x="332.7" y="615.6" font-size="11" fill="#000" font-weight="bold" stroke="#000" stroke-width="0.3" text-anchor="middle">23</text>
<text x="374.5" y="615.6" font-size="12" fill="#000" font-weight="bold" stroke="#000" stroke-width="0.3" text-anchor="middle">jun</text>
<text x="419.7" y="615.6" font-size="11" fill="#000" font-weight="bold" stroke="#000" stroke-width="0.3" text-anchor="middle">13</text>
<text x="449.7" y="615.6" font-size="11" fill="#000" font-weight="bold" stroke="#000" stroke-width="0.3" text-anchor="middle">20</text>
<text x="478.7" y="615.6" font-size="11" fill="#000" font-weight="bold" stroke="#000" stroke-width="0.3" text-anchor="middle">27</text>
<text x="502.5" y="615.6" font-size="12" fill="#000" font-weight="bold" stroke="#000" stroke-width="0.3" text-anchor="middle">jul</text>
<text x="536.7" y="615.6" font-size="11" fill="#000" font-weight="bold" stroke="#000" stroke-width="0.3" text-anchor="middle">11</text>
<text x="566.7" y="615.6" font-size="11" fill="#000" font-weight="bold" stroke="#000" stroke-width="0.3" text-anchor="middle">18</text>
<text x="595.7" y="615.6" font-size="11" fill="#000" font-weight="bold" stroke="#000" stroke-width="0.3" text-anchor="middle">25</text>
<text x="625.5" y="615.6" font-size="12" fill="#000" font-weight="bold" stroke="#000" stroke-width="0.3" text-anchor="middle">ago</text>
<text x="654.7" y="615.6" font-size="11" fill="#000" font-weight="bold" stroke="#000" stroke-width="0.3" text-anchor="middle">08</text>
<text x="683.7" y="615.6" font-size="11" fill="#000" font-weight="bold" stroke="#000" stroke-width="0.3" text-anchor="middle">15</text>
<text x="712.7" y="615.6" font-size="11" fill="#000" font-weight="bold" stroke="#000" stroke-width="0.3" text-anchor="middle">22</text>
<text x="760.5" y="615.6" font-size="12" fill="#000" font-weight="bold" stroke="#000" stroke-width="0.3" text-anchor="middle">sep</text>
<g shape-rendering="crispEdges">
<rect x="786" y="412" width="4" height="1" fill="#9fb1bc"/>
<rect x="786" y="426" width="2" height="1" fill="#9fb1bc"/>
<rect x="786" y="439" width="4" height="1" fill="#9fb1bc"/>
<rect x="786" y="453" width="2" height="1" fill="#9fb1bc"/>
<rect x="786" y="475" width="4" height="1" fill="#9fb1bc"/>
<rect x="786" y="505" width="2" height="1" fill="#9fb1bc"/>
<rect x="786" y="546" width="4" height="1" fill="#9fb1bc"/>
<rect x="786" y="554" width="2" height="1" fill="#9fb1bc"/>
<rect x="786" y="562" width="4" height="1" fill="#9fb1bc"/>
<rect x="786" y="570" width="2" height="1" fill="#9fb1bc"/>
<rect x="786" y="578" width="4" height="1" fill="#9fb1bc"/>
<rect x="786" y="586" width="2" height="1" fill="#9fb1bc"/>
<rect x="786" y="593" width="4" height="1" fill="#9fb1bc"/>
</g>
<text x="792" y="415.9" font-size="11" fill="#000" font-weight="bold" stroke="#000" stroke-width="0.3" text-anchor="start" textLength="32.3" lengthAdjust="spacingAndGlyphs">4.000k</text>
<text x="792" y="442.6" font-size="11" fill="#000" font-weight="bold" stroke="#000" stroke-width="0.3" text-anchor="start" textLength="32.3" lengthAdjust="spacingAndGlyphs">2.000k</text>
<text x="792" y="479.3" font-size="11" fill="#000" font-weight="bold" stroke="#000" stroke-width="0.3" text-anchor="start" textLength="19" lengthAdjust="spacingAndGlyphs">100</text>
<text x="792" y="532" font-size="11" fill="#000" font-weight="bold" stroke="#000" stroke-width="0.3" text-anchor="start">0</text>
<text x="792" y="550.1" font-size="11" fill="#000" font-weight="bold" stroke="#000" stroke-width="0.3" text-anchor="start" textLength="20.7" lengthAdjust="spacingAndGlyphs">0,02</text>
<text x="792" y="582.1" font-size="11" fill="#000" font-weight="bold" stroke="#000" stroke-width="0.3" text-anchor="start" textLength="24.4" lengthAdjust="spacingAndGlyphs">-0,02</text>
<text x="792" y="597" font-size="11" fill="#000" font-weight="bold" stroke="#000" stroke-width="0.3" text-anchor="start" textLength="24.4" lengthAdjust="spacingAndGlyphs">-0,04</text>
<g shape-rendering="crispEdges">
<rect x="786" y="225" width="5" height="1" fill="#e06060"/>
<rect x="786" y="226" width="5" height="1" fill="#0000cc"/>
<rect x="786" y="292" width="5" height="1" fill="#d2c800"/>
<rect x="786" y="294" width="5" height="1" fill="#000"/>
<rect x="786" y="296" width="5" height="1" fill="#ff33cc"/>
<rect x="786" y="298" width="5" height="1" fill="#1464ff"/>
<rect x="786" y="464" width="5" height="1" fill="#000"/>
<rect x="786" y="505" width="5" height="1" fill="#e06060"/>
<rect x="786" y="508" width="5" height="1" fill="#000"/>
<rect x="786" y="561" width="5" height="1" fill="#44cc44"/>
<rect x="786" y="564" width="5" height="1" fill="#1e28d2"/>
<rect x="786" y="565" width="5" height="1" fill="#e06060"/>
</g>
<rect x="790.5" y="211.5" width="36" height="14" fill="url(#box)" stroke="#8fa3af" stroke-width="1"/>
<text x="792" y="222.8" font-size="11" fill="#e06060" font-weight="bold" stroke="#e06060" stroke-width="0.3" text-anchor="start" textLength="32" lengthAdjust="spacingAndGlyphs">0,5872</text>
<rect x="790.5" y="226.5" width="36" height="14" fill="url(#box)" stroke="#8fa3af" stroke-width="1"/>
<text x="792" y="237.8" font-size="11" fill="#0000cc" font-weight="bold" stroke="#0000cc" stroke-width="0.3" text-anchor="start" textLength="32" lengthAdjust="spacingAndGlyphs">0,5862</text>
<rect x="790.5" y="278.5" width="36" height="14" fill="url(#box)" stroke="#8fa3af" stroke-width="1"/>
<text x="792" y="289.8" font-size="11" fill="#d2c800" font-weight="bold" stroke="#d2c800" stroke-width="0.3" text-anchor="start" textLength="32" lengthAdjust="spacingAndGlyphs">0,5024</text>
<rect x="790.5" y="289.5" width="36" height="14" fill="url(#box)" stroke="#8fa3af" stroke-width="1"/>
<text x="792" y="300.8" font-size="11" fill="#ff33cc" font-weight="bold" stroke="#ff33cc" stroke-width="0.3" text-anchor="start" textLength="32" lengthAdjust="spacingAndGlyphs">0,4979</text>
<rect x="790.5" y="296.5" width="36" height="14" fill="url(#box)" stroke="#8fa3af" stroke-width="1"/>
<text x="792" y="307.8" font-size="11" fill="#1464ff" font-weight="bold" stroke="#1464ff" stroke-width="0.3" text-anchor="start" textLength="32" lengthAdjust="spacingAndGlyphs">0,4945</text>
<rect x="791.5" y="287.5" width="23" height="13" fill="url(#gold)" stroke="#b08000" stroke-width="1"/>
<text x="793" y="297.8" font-size="11" fill="#000" font-weight="bold" stroke="#000" stroke-width="0.3" text-anchor="start" textLength="19.7" lengthAdjust="spacingAndGlyphs">0,50</text>
<g clip-path="url(#cb)">
<rect x="790.5" y="448.5" width="42" height="14" fill="url(#box)" stroke="#8fa3af" stroke-width="1"/>
<text x="830" y="459.8" font-size="11" fill="#000" font-weight="bold" stroke="#000" stroke-width="0.3" text-anchor="end">145.760</text>
</g>
<rect x="790.5" y="450.5" width="36" height="14" fill="url(#box)" stroke="#8fa3af" stroke-width="1"/>
<text x="792" y="461.8" font-size="11" fill="#44cc44" font-weight="bold" stroke="#44cc44" stroke-width="0.3" text-anchor="start" textLength="32" lengthAdjust="spacingAndGlyphs">68.326</text>
<rect x="790.5" y="491.5" width="36" height="14" fill="url(#box)" stroke="#8fa3af" stroke-width="1"/>
<text x="792" y="502.8" font-size="11" fill="#e06060" font-weight="bold" stroke="#e06060" stroke-width="0.3" text-anchor="start" textLength="32" lengthAdjust="spacingAndGlyphs">50,556</text>
<rect x="790.5" y="505.5" width="36" height="14" fill="url(#box)" stroke="#8fa3af" stroke-width="1"/>
<text x="792" y="516.8" font-size="11" fill="#000" font-weight="bold" stroke="#000" stroke-width="0.3" text-anchor="start" textLength="32" lengthAdjust="spacingAndGlyphs">44,444</text>
<rect x="790.5" y="547.5" width="36" height="14" fill="url(#box)" stroke="#8fa3af" stroke-width="1"/>
<text x="792" y="558.8" font-size="11" fill="#44cc44" font-weight="bold" stroke="#44cc44" stroke-width="0.3" text-anchor="start" textLength="32" lengthAdjust="spacingAndGlyphs">0,0010</text>
<rect x="790.5" y="556.5" width="40" height="14" fill="url(#box)" stroke="#8fa3af" stroke-width="1"/>
<text x="792" y="567.8" font-size="11" fill="#1e28d2" font-weight="bold" stroke="#1e28d2" stroke-width="0.3" text-anchor="start" textLength="36" lengthAdjust="spacingAndGlyphs">-0,0027</text>
<rect x="790.5" y="565.5" width="40" height="14" fill="url(#box)" stroke="#8fa3af" stroke-width="1"/>
<text x="792" y="576.8" font-size="11" fill="#e06060" font-weight="bold" stroke="#e06060" stroke-width="0.3" text-anchor="start" textLength="36" lengthAdjust="spacingAndGlyphs">-0,0037</text>
</svg>
</body></html>
